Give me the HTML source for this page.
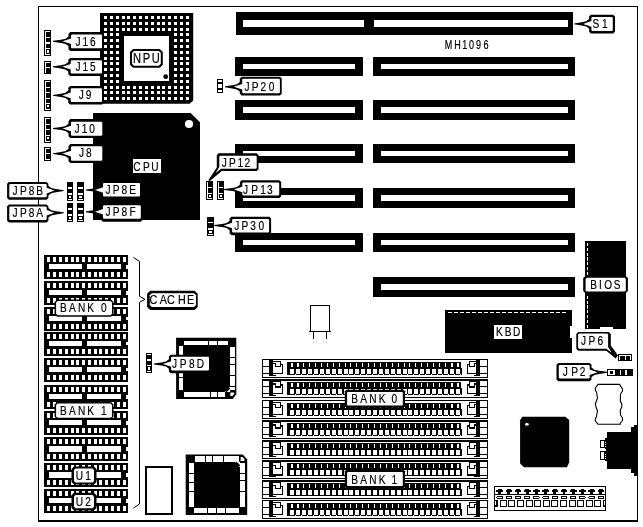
<!DOCTYPE html>
<html><head><meta charset="utf-8"><title>MH1096 motherboard layout</title>
<style>
html,body{margin:0;padding:0;background:#fff;}
body{width:643px;height:527px;overflow:hidden;}
svg{display:block;will-change:transform;}
rect{shape-rendering:crispEdges;}
text{font-family:"Liberation Sans",Arial,Helvetica,sans-serif;}
</style></head><body>
<svg width="643" height="527" viewBox="0 0 643 527">
<rect x="0" y="0" width="643" height="527" fill="#fff"/>
<rect x="38" y="6" width="600.2" height="1" fill="#000" />
<rect x="38" y="6" width="1" height="515.5" fill="#000" />
<rect x="636.9" y="6" width="1.3" height="515.7" fill="#000" />
<rect x="38" y="519.9" width="600.2" height="1.9" fill="#000" />
<path d="M100,13 H193.2 V100.6 L189.8,103.8 H100 Z" fill="#000"/>
<rect x="124" y="36" width="45" height="45" fill="#fff" />
<rect x="104" y="16" width="3" height="3" fill="#fff" />
<rect x="104" y="22" width="3" height="3" fill="#fff" />
<rect x="104" y="28" width="3" height="3" fill="#fff" />
<rect x="104" y="33" width="3" height="3" fill="#fff" />
<rect x="104" y="39" width="3" height="3" fill="#fff" />
<rect x="104" y="45" width="3" height="3" fill="#fff" />
<rect x="104" y="51" width="3" height="3" fill="#fff" />
<rect x="104" y="57" width="3" height="3" fill="#fff" />
<rect x="104" y="62" width="3" height="3" fill="#fff" />
<rect x="104" y="68" width="3" height="3" fill="#fff" />
<rect x="104" y="74" width="3" height="3" fill="#fff" />
<rect x="104" y="80" width="3" height="3" fill="#fff" />
<rect x="104" y="86" width="3" height="3" fill="#fff" />
<rect x="104" y="91" width="3" height="3" fill="#fff" />
<rect x="104" y="97" width="3" height="3" fill="#fff" />
<rect x="110" y="16" width="3" height="3" fill="#fff" />
<rect x="110" y="22" width="3" height="3" fill="#fff" />
<rect x="110" y="28" width="3" height="3" fill="#fff" />
<rect x="110" y="33" width="3" height="3" fill="#fff" />
<rect x="110" y="39" width="3" height="3" fill="#fff" />
<rect x="110" y="45" width="3" height="3" fill="#fff" />
<rect x="110" y="51" width="3" height="3" fill="#fff" />
<rect x="110" y="57" width="3" height="3" fill="#fff" />
<rect x="110" y="62" width="3" height="3" fill="#fff" />
<rect x="110" y="68" width="3" height="3" fill="#fff" />
<rect x="110" y="74" width="3" height="3" fill="#fff" />
<rect x="110" y="80" width="3" height="3" fill="#fff" />
<rect x="110" y="86" width="3" height="3" fill="#fff" />
<rect x="110" y="91" width="3" height="3" fill="#fff" />
<rect x="110" y="97" width="3" height="3" fill="#fff" />
<rect x="116" y="16" width="3" height="3" fill="#fff" />
<rect x="116" y="22" width="3" height="3" fill="#fff" />
<rect x="116" y="28" width="3" height="3" fill="#fff" />
<rect x="116" y="33" width="3" height="3" fill="#fff" />
<rect x="116" y="39" width="3" height="3" fill="#fff" />
<rect x="116" y="45" width="3" height="3" fill="#fff" />
<rect x="116" y="51" width="3" height="3" fill="#fff" />
<rect x="116" y="57" width="3" height="3" fill="#fff" />
<rect x="116" y="62" width="3" height="3" fill="#fff" />
<rect x="116" y="68" width="3" height="3" fill="#fff" />
<rect x="116" y="74" width="3" height="3" fill="#fff" />
<rect x="116" y="80" width="3" height="3" fill="#fff" />
<rect x="116" y="86" width="3" height="3" fill="#fff" />
<rect x="116" y="91" width="3" height="3" fill="#fff" />
<rect x="116" y="97" width="3" height="3" fill="#fff" />
<rect x="122" y="16" width="3" height="3" fill="#fff" />
<rect x="122" y="22" width="3" height="3" fill="#fff" />
<rect x="122" y="28" width="3" height="3" fill="#fff" />
<rect x="122" y="86" width="3" height="3" fill="#fff" />
<rect x="122" y="91" width="3" height="3" fill="#fff" />
<rect x="122" y="97" width="3" height="3" fill="#fff" />
<rect x="127" y="16" width="3" height="3" fill="#fff" />
<rect x="127" y="22" width="3" height="3" fill="#fff" />
<rect x="127" y="28" width="3" height="3" fill="#fff" />
<rect x="127" y="86" width="3" height="3" fill="#fff" />
<rect x="127" y="91" width="3" height="3" fill="#fff" />
<rect x="127" y="97" width="3" height="3" fill="#fff" />
<rect x="133" y="16" width="3" height="3" fill="#fff" />
<rect x="133" y="22" width="3" height="3" fill="#fff" />
<rect x="133" y="28" width="3" height="3" fill="#fff" />
<rect x="133" y="86" width="3" height="3" fill="#fff" />
<rect x="133" y="91" width="3" height="3" fill="#fff" />
<rect x="133" y="97" width="3" height="3" fill="#fff" />
<rect x="139" y="16" width="3" height="3" fill="#fff" />
<rect x="139" y="22" width="3" height="3" fill="#fff" />
<rect x="139" y="28" width="3" height="3" fill="#fff" />
<rect x="139" y="86" width="3" height="3" fill="#fff" />
<rect x="139" y="91" width="3" height="3" fill="#fff" />
<rect x="139" y="97" width="3" height="3" fill="#fff" />
<rect x="145" y="16" width="3" height="3" fill="#fff" />
<rect x="145" y="22" width="3" height="3" fill="#fff" />
<rect x="145" y="28" width="3" height="3" fill="#fff" />
<rect x="145" y="86" width="3" height="3" fill="#fff" />
<rect x="145" y="91" width="3" height="3" fill="#fff" />
<rect x="145" y="97" width="3" height="3" fill="#fff" />
<rect x="151" y="16" width="3" height="3" fill="#fff" />
<rect x="151" y="22" width="3" height="3" fill="#fff" />
<rect x="151" y="28" width="3" height="3" fill="#fff" />
<rect x="151" y="86" width="3" height="3" fill="#fff" />
<rect x="151" y="91" width="3" height="3" fill="#fff" />
<rect x="151" y="97" width="3" height="3" fill="#fff" />
<rect x="157" y="16" width="3" height="3" fill="#fff" />
<rect x="157" y="22" width="3" height="3" fill="#fff" />
<rect x="157" y="28" width="3" height="3" fill="#fff" />
<rect x="157" y="86" width="3" height="3" fill="#fff" />
<rect x="157" y="91" width="3" height="3" fill="#fff" />
<rect x="157" y="97" width="3" height="3" fill="#fff" />
<rect x="162" y="16" width="3" height="3" fill="#fff" />
<rect x="162" y="22" width="3" height="3" fill="#fff" />
<rect x="162" y="28" width="3" height="3" fill="#fff" />
<rect x="162" y="86" width="3" height="3" fill="#fff" />
<rect x="162" y="91" width="3" height="3" fill="#fff" />
<rect x="162" y="97" width="3" height="3" fill="#fff" />
<rect x="168" y="16" width="3" height="3" fill="#fff" />
<rect x="168" y="22" width="3" height="3" fill="#fff" />
<rect x="168" y="28" width="3" height="3" fill="#fff" />
<rect x="168" y="86" width="3" height="3" fill="#fff" />
<rect x="168" y="91" width="3" height="3" fill="#fff" />
<rect x="168" y="97" width="3" height="3" fill="#fff" />
<rect x="174" y="16" width="3" height="3" fill="#fff" />
<rect x="174" y="22" width="3" height="3" fill="#fff" />
<rect x="174" y="28" width="3" height="3" fill="#fff" />
<rect x="174" y="33" width="3" height="3" fill="#fff" />
<rect x="174" y="39" width="3" height="3" fill="#fff" />
<rect x="174" y="45" width="3" height="3" fill="#fff" />
<rect x="174" y="51" width="3" height="3" fill="#fff" />
<rect x="174" y="57" width="3" height="3" fill="#fff" />
<rect x="174" y="62" width="3" height="3" fill="#fff" />
<rect x="174" y="68" width="3" height="3" fill="#fff" />
<rect x="174" y="74" width="3" height="3" fill="#fff" />
<rect x="174" y="80" width="3" height="3" fill="#fff" />
<rect x="174" y="86" width="3" height="3" fill="#fff" />
<rect x="174" y="91" width="3" height="3" fill="#fff" />
<rect x="174" y="97" width="3" height="3" fill="#fff" />
<rect x="180" y="16" width="3" height="3" fill="#fff" />
<rect x="180" y="22" width="3" height="3" fill="#fff" />
<rect x="180" y="28" width="3" height="3" fill="#fff" />
<rect x="180" y="33" width="3" height="3" fill="#fff" />
<rect x="180" y="39" width="3" height="3" fill="#fff" />
<rect x="180" y="45" width="3" height="3" fill="#fff" />
<rect x="180" y="51" width="3" height="3" fill="#fff" />
<rect x="180" y="57" width="3" height="3" fill="#fff" />
<rect x="180" y="62" width="3" height="3" fill="#fff" />
<rect x="180" y="68" width="3" height="3" fill="#fff" />
<rect x="180" y="74" width="3" height="3" fill="#fff" />
<rect x="180" y="80" width="3" height="3" fill="#fff" />
<rect x="180" y="86" width="3" height="3" fill="#fff" />
<rect x="180" y="91" width="3" height="3" fill="#fff" />
<rect x="180" y="97" width="3" height="3" fill="#fff" />
<rect x="186" y="16" width="3" height="3" fill="#fff" />
<rect x="186" y="22" width="3" height="3" fill="#fff" />
<rect x="186" y="28" width="3" height="3" fill="#fff" />
<rect x="186" y="33" width="3" height="3" fill="#fff" />
<rect x="186" y="39" width="3" height="3" fill="#fff" />
<rect x="186" y="45" width="3" height="3" fill="#fff" />
<rect x="186" y="51" width="3" height="3" fill="#fff" />
<rect x="186" y="57" width="3" height="3" fill="#fff" />
<rect x="186" y="62" width="3" height="3" fill="#fff" />
<rect x="186" y="68" width="3" height="3" fill="#fff" />
<rect x="186" y="74" width="3" height="3" fill="#fff" />
<rect x="186" y="80" width="3" height="3" fill="#fff" />
<rect x="186" y="86" width="3" height="3" fill="#fff" />
<rect x="186" y="91" width="3" height="3" fill="#fff" />
<rect x="186" y="97" width="3" height="3" fill="#fff" />
<circle cx="165.7" cy="76.7" r="2.4" fill="#000"/>
<polygon points="133,48.9 159.8,48.9 162.8,51.9 162.8,64.8 159.8,67.8 133,67.8 130,64.8 130,51.9" fill="#000"/>
<polygon points="134,50.9 158.8,50.9 160.8,52.9 160.8,63.8 158.8,65.8 134,65.8 132,63.8 132,52.9" fill="#fff"/>
<text transform="scale(0.8,1)" x="171.25 183.00 194.75" y="62.8" font-size="14" text-anchor="middle" fill="#000" stroke="#000" stroke-width="0.2" font-weight="normal" font-family="Liberation Sans, Arial, Helvetica, sans-serif">NPU</text>
<path d="M93,113 H190.6 L200,122.3 V220 H93 Z" fill="#000"/>
<circle cx="189" cy="124" r="4.1" fill="#fff"/>
<rect x="236" y="12" width="336.6" height="22.7" fill="#000" />
<rect x="243" y="20" width="121.4" height="7" fill="#fff" />
<rect x="373.7" y="20" width="194" height="7" fill="#fff" />
<rect x="235" y="56.8" width="128" height="19" fill="#000" />
<rect x="242.6" y="64" width="112.6" height="5.4" fill="#fff" />
<rect x="373" y="56.8" width="202" height="19" fill="#000" />
<rect x="381" y="64" width="186.6" height="5.4" fill="#fff" />
<rect x="235" y="99.8" width="128" height="20" fill="#000" />
<rect x="242.6" y="106.9" width="112.6" height="6.1" fill="#fff" />
<rect x="373" y="99.8" width="202" height="20" fill="#000" />
<rect x="381" y="106.9" width="186.6" height="6.1" fill="#fff" />
<rect x="235" y="144.1" width="128" height="18.6" fill="#000" />
<rect x="242.6" y="151.4" width="112.6" height="4.8" fill="#fff" />
<rect x="373" y="144.1" width="202" height="18.6" fill="#000" />
<rect x="381" y="151.4" width="186.6" height="4.8" fill="#fff" />
<rect x="235" y="187.8" width="128" height="20" fill="#000" />
<rect x="242.6" y="194.9" width="112.6" height="6.1" fill="#fff" />
<rect x="373" y="187.8" width="202" height="20" fill="#000" />
<rect x="381" y="194.9" width="186.6" height="6.1" fill="#fff" />
<rect x="235" y="232.9" width="128" height="19" fill="#000" />
<rect x="242.6" y="239.9" width="112.6" height="5.1" fill="#fff" />
<rect x="373" y="232.9" width="202" height="19" fill="#000" />
<rect x="381" y="239.9" width="186.6" height="5.1" fill="#fff" />
<rect x="373" y="276.9" width="202" height="19.9" fill="#000" />
<rect x="381" y="284.2" width="186.6" height="5.8" fill="#fff" />
<text transform="scale(0.74,1)" x="605.95 618.24 628.11 637.03 646.76 656.62" y="49" font-size="12.2" text-anchor="middle" fill="#000" stroke="#000" stroke-width="0.2" font-weight="normal" font-family="Liberation Sans, Arial, Helvetica, sans-serif">MH1096</text>
<rect x="44" y="30" width="7" height="26" fill="#000" />
<rect x="45" y="31" width="1.1" height="24" fill="#fff" />
<rect x="45" y="31" width="5" height="1.1" fill="#fff" />
<rect x="45" y="36.725" width="5" height="1.1" fill="#fff" />
<rect x="45" y="42.45" width="5" height="1.1" fill="#fff" />
<rect x="45" y="48.175" width="5" height="1.1" fill="#fff" />
<rect x="45" y="53.9" width="5" height="1.1" fill="#fff" />
<rect x="49.5" y="48.175" width="0.6" height="6.825" fill="#fff" />
<rect x="47" y="50.4875" width="2" height="2.2" fill="#fff" />
<rect x="44" y="61" width="7" height="12.7" fill="#000" />
<rect x="45" y="62" width="1.1" height="10.7" fill="#fff" />
<rect x="45" y="62" width="5" height="1.1" fill="#fff" />
<rect x="45" y="66.8" width="5" height="1.1" fill="#fff" />
<rect x="44" y="80" width="7" height="30.6" fill="#000" />
<rect x="45" y="81" width="1.1" height="28.6" fill="#fff" />
<rect x="45" y="81" width="5" height="1.1" fill="#fff" />
<rect x="45" y="86.5" width="5" height="1.1" fill="#fff" />
<rect x="45" y="92" width="5" height="1.1" fill="#fff" />
<rect x="45" y="97.5" width="5" height="1.1" fill="#fff" />
<rect x="45" y="103" width="5" height="1.1" fill="#fff" />
<rect x="45" y="108.5" width="5" height="1.1" fill="#fff" />
<rect x="49.5" y="103" width="0.6" height="6.6" fill="#fff" />
<rect x="47" y="105.2" width="2" height="2.2" fill="#fff" />
<rect x="44" y="117" width="7" height="25.7" fill="#000" />
<rect x="45" y="118" width="1.1" height="23.7" fill="#fff" />
<rect x="45" y="118" width="5" height="1.1" fill="#fff" />
<rect x="45" y="123.65" width="5" height="1.1" fill="#fff" />
<rect x="45" y="129.3" width="5" height="1.1" fill="#fff" />
<rect x="45" y="134.95" width="5" height="1.1" fill="#fff" />
<rect x="45" y="140.6" width="5" height="1.1" fill="#fff" />
<rect x="49.5" y="134.95" width="0.6" height="6.75" fill="#fff" />
<rect x="47" y="137.225" width="2" height="2.2" fill="#fff" />
<rect x="44" y="147" width="7" height="13.7" fill="#000" />
<rect x="45" y="148" width="1.1" height="11.7" fill="#fff" />
<rect x="45" y="148" width="5" height="1.1" fill="#fff" />
<rect x="45" y="153.3" width="5" height="1.1" fill="#fff" />
<rect x="45" y="158.6" width="5" height="1.1" fill="#fff" />
<polygon points="70.3,32 102.2,32 104,33.8 104,49.2 102.2,51 70.3,51 68.5,49.2 68.5,46.1 65.6,43.9 61,42.9 53,41.75 53,40.85 61,39.7 65.6,38.7 68.5,36.5 68.5,33.8" fill="#000"/>
<polygon points="71.8,34.6 101.2,34.6 102,35.4 102,47.5 101.2,48.3 71.8,48.3 71,47.5 71,44.1 62.5,41.3 71,38.5 71,35.4" fill="#fff"/>
<text transform="scale(0.75,1)" x="104.00 113.87 123.73" y="46" font-size="13.5" text-anchor="middle" fill="#000" stroke="#000" stroke-width="0.2" font-weight="normal" font-family="Liberation Sans, Arial, Helvetica, sans-serif">J16</text>
<polygon points="70.1,58 102.2,58 104,59.8 104,74.2 102.2,76 70.1,76 68.3,74.2 68.3,71.6 65.4,69.4 60.8,68.4 53,67.25 53,66.35 60.8,65.2 65.4,64.2 68.3,62 68.3,59.8" fill="#000"/>
<polygon points="71.5,60.3 101.2,60.3 102,61.1 102,72.8 101.2,73.6 71.5,73.6 70.7,72.8 70.7,69.6 62.3,66.8 70.7,64 70.7,61.1" fill="#fff"/>
<text transform="scale(0.75,1)" x="104.00 113.87 123.73" y="71" font-size="13.5" text-anchor="middle" fill="#000" stroke="#000" stroke-width="0.2" font-weight="normal" font-family="Liberation Sans, Arial, Helvetica, sans-serif">J15</text>
<polygon points="70.1,86 102.2,86 104,87.8 104,102.8 102.2,104.6 70.1,104.6 68.3,102.8 68.3,100.2 65.4,98 60.8,97 53,95.85 53,94.95 60.8,93.8 65.4,92.8 68.3,90.6 68.3,87.8" fill="#000"/>
<polygon points="71.5,88.3 101.2,88.3 102,89.1 102,101.2 101.2,102 71.5,102 70.7,101.2 70.7,98.2 62.3,95.4 70.7,92.6 70.7,89.1" fill="#fff"/>
<text transform="scale(0.75,1)" x="108.40 118.27" y="99" font-size="13.5" text-anchor="middle" fill="#000" stroke="#000" stroke-width="0.2" font-weight="normal" font-family="Liberation Sans, Arial, Helvetica, sans-serif">J9</text>
<polygon points="70.3,119.1 102.7,119.1 104.5,120.9 104.5,136.2 102.7,138 70.3,138 68.5,136.2 68.5,133.3 65.6,131.1 61,130.1 53,128.95 53,128.05 61,126.9 65.6,125.9 68.5,123.7 68.5,120.9" fill="#000"/>
<polygon points="71.8,121.8 101.5,121.8 102.3,122.6 102.3,134.9 101.5,135.7 71.8,135.7 71,134.9 71,131.3 62.5,128.5 71,125.7 71,122.6" fill="#fff"/>
<text transform="scale(0.75,1)" x="102.67 112.80 122.93" y="132.7" font-size="13.5" text-anchor="middle" fill="#000" stroke="#000" stroke-width="0.2" font-weight="normal" font-family="Liberation Sans, Arial, Helvetica, sans-serif">J10</text>
<polygon points="70.3,144.1 102.7,144.1 104.5,145.9 104.5,161.2 102.7,163 70.3,163 68.5,161.2 68.5,158.4 65.6,156.2 61,155.2 53,154.05 53,153.15 61,152 65.6,151 68.5,148.8 68.5,145.9" fill="#000"/>
<polygon points="71.8,146.3 101.5,146.3 102.3,147.1 102.3,159.9 101.5,160.7 71.8,160.7 71,159.9 71,156.4 62.5,153.6 71,150.8 71,147.1" fill="#fff"/>
<text transform="scale(0.75,1)" x="108.67 118.53" y="157" font-size="13.5" text-anchor="middle" fill="#000" stroke="#000" stroke-width="0.2" font-weight="normal" font-family="Liberation Sans, Arial, Helvetica, sans-serif">J8</text>
<rect x="67" y="182" width="6" height="19" fill="#000" />
<rect x="68.1" y="187" width="3.9" height="2" fill="#fff" />
<rect x="68.1" y="193.1" width="3.9" height="1.9" fill="#fff" />
<rect x="68.1" y="199.1" width="3.9" height="1" fill="#fff" />
<rect x="69" y="196.2" width="2" height="2" fill="#fff" />
<rect x="77" y="182" width="7" height="19" fill="#000" />
<rect x="78.1" y="187" width="4.9" height="2" fill="#fff" />
<rect x="78.1" y="193.1" width="4.9" height="1.9" fill="#fff" />
<rect x="78.1" y="199.1" width="4.9" height="1" fill="#fff" />
<rect x="79" y="196.2" width="3" height="2" fill="#fff" />
<rect x="67" y="203" width="6" height="19" fill="#000" />
<rect x="68.1" y="208" width="3.9" height="2" fill="#fff" />
<rect x="68.1" y="214.1" width="3.9" height="1.9" fill="#fff" />
<rect x="68.1" y="220.1" width="3.9" height="1" fill="#fff" />
<rect x="69" y="217.2" width="2" height="2" fill="#fff" />
<rect x="77" y="203" width="7" height="19" fill="#000" />
<rect x="78.1" y="208" width="4.9" height="2" fill="#fff" />
<rect x="78.1" y="214.1" width="4.9" height="1.9" fill="#fff" />
<rect x="78.1" y="220.1" width="4.9" height="1" fill="#fff" />
<rect x="79" y="217.2" width="3" height="2" fill="#fff" />
<polygon points="8.9,182 46.6,182 48.4,183.8 48.4,185.8 51.3,188 55.9,189 63.7,190.15 63.7,191.05 55.9,192.2 51.3,193.2 48.4,195.4 48.4,197.9 46.6,199.7 8.9,199.7 7.1,197.9 7.1,183.8" fill="#000"/>
<polygon points="10.1,183.9 45.9,183.9 46.7,184.7 46.7,187.8 54.4,190.6 46.7,193.4 46.7,196.4 45.9,197.2 10.1,197.2 9.3,196.4 9.3,184.7" fill="#fff"/>
<text transform="scale(0.75,1)" x="20.13 31.07 42.00 52.93" y="194.8" font-size="13.5" text-anchor="middle" fill="#000" stroke="#000" stroke-width="0.2" font-weight="normal" font-family="Liberation Sans, Arial, Helvetica, sans-serif">JP8B</text>
<polygon points="8.9,204.5 46.6,204.5 48.4,206.3 48.4,208 51.3,210.2 55.9,211.2 63.7,212.35 63.7,213.25 55.9,214.4 51.3,215.4 48.4,217.6 48.4,220.8 46.6,222.6 8.9,222.6 7.1,220.8 7.1,206.3" fill="#000"/>
<polygon points="10.1,206.4 45.9,206.4 46.7,207.2 46.7,210 54.4,212.8 46.7,215.6 46.7,219.3 45.9,220.1 10.1,220.1 9.3,219.3 9.3,207.2" fill="#fff"/>
<text transform="scale(0.75,1)" x="20.13 31.07 42.00 52.93" y="217.2" font-size="13.5" text-anchor="middle" fill="#000" stroke="#000" stroke-width="0.2" font-weight="normal" font-family="Liberation Sans, Arial, Helvetica, sans-serif">JP8A</text>
<polygon points="102.8,181 140.2,181 142,182.8 142,196.9 140.2,198.7 102.8,198.7 101,196.9 101,194.8 98.1,192.6 93.5,191.6 86,190.45 86,189.55 93.5,188.4 98.1,187.4 101,185.2 101,182.8" fill="#000"/>
<polygon points="103.8,183 139.2,183 140,183.8 140,195.7 139.2,196.5 103.8,196.5 103,195.7 103,192.8 95,190 103,187.2 103,183.8" fill="#fff"/>
<text transform="scale(0.75,1)" x="144.00 154.93 165.87 176.80" y="194" font-size="13.5" text-anchor="middle" fill="#000" stroke="#000" stroke-width="0.2" font-weight="normal" font-family="Liberation Sans, Arial, Helvetica, sans-serif">JP8E</text>
<polygon points="102.8,203.2 140.8,203.2 142.6,205 142.6,219.9 140.8,221.7 102.8,221.7 101,219.9 101,216.6 98.1,214.4 93.5,213.4 86,212.25 86,211.35 93.5,210.2 98.1,209.2 101,207 101,205" fill="#000"/>
<polygon points="103.8,205.2 140,205.2 140.8,206 140.8,217.9 140,218.7 103.8,218.7 103,217.9 103,214.6 95,211.8 103,209 103,206" fill="#fff"/>
<text transform="scale(0.75,1)" x="144.00 154.93 165.87 176.80" y="215.8" font-size="13.5" text-anchor="middle" fill="#000" stroke="#000" stroke-width="0.2" font-weight="normal" font-family="Liberation Sans, Arial, Helvetica, sans-serif">JP8F</text>
<rect x="133" y="159" width="28" height="14" fill="#fff" />
<text transform="scale(0.75,1)" x="182.40 195.07 206.67" y="170.9" font-size="13.5" text-anchor="middle" fill="#000" stroke="#000" stroke-width="0.2" font-weight="normal" font-family="Liberation Sans, Arial, Helvetica, sans-serif">CPU</text>
<rect x="217" y="79" width="6" height="14" fill="#000" />
<rect x="218" y="80" width="4" height="1.8" fill="#fff" />
<rect x="218" y="84.4" width="4" height="3.2" fill="#fff" />
<rect x="218" y="90.2" width="4" height="1.8" fill="#fff" />
<polygon points="241.6,76.7 279.9,76.7 281.7,78.5 281.7,93.8 279.9,95.6 241.6,95.6 239.8,93.8 239.8,91.6 236.9,89.4 232.3,88.4 225,87.25 225,86.35 232.3,85.2 236.9,84.2 239.8,82 239.8,78.5" fill="#000"/>
<polygon points="243,78.8 279.1,78.8 279.9,79.6 279.9,92.4 279.1,93.2 243,93.2 242.2,92.4 242.2,89.6 233.8,86.8 242.2,84 242.2,79.6" fill="#fff"/>
<text transform="scale(0.75,1)" x="329.33 340.27 351.20 362.13" y="91" font-size="13.5" text-anchor="middle" fill="#000" stroke="#000" stroke-width="0.2" font-weight="normal" font-family="Liberation Sans, Arial, Helvetica, sans-serif">JP20</text>
<polygon points="218.6,153.3 256.7,153.3 258.5,155.1 258.5,169.3 256.7,171.1 221.8,171.1 209.9,181 208.3,180.2 216.8,167.6 216.8,155.1" fill="#000"/>
<polygon points="220.1,155.7 255.9,155.7 256.7,156.5 256.7,167.9 255.9,168.7 221,168.7 215.6,173 219.3,167 219.3,156.5" fill="#fff"/>
<text transform="scale(0.75,1)" x="299.20 310.00 320.53 329.60" y="167" font-size="13.5" text-anchor="middle" fill="#000" stroke="#000" stroke-width="0.2" font-weight="normal" font-family="Liberation Sans, Arial, Helvetica, sans-serif">JP12</text>
<rect x="206" y="181" width="7" height="18.9" fill="#000" />
<rect x="207" y="182" width="1.1" height="16.9" fill="#fff" />
<rect x="207" y="187.267" width="5" height="1.1" fill="#fff" />
<rect x="207" y="192.533" width="5" height="1.1" fill="#fff" />
<rect x="207" y="197.8" width="5" height="1.1" fill="#fff" />
<rect x="211.5" y="192.533" width="0.6" height="6.36667" fill="#fff" />
<rect x="209" y="194.617" width="2" height="2.2" fill="#fff" />
<rect x="217" y="181" width="7" height="18.9" fill="#000" />
<rect x="218" y="182" width="1.1" height="16.9" fill="#fff" />
<rect x="218" y="187.267" width="5" height="1.1" fill="#fff" />
<rect x="218" y="192.533" width="5" height="1.1" fill="#fff" />
<rect x="218" y="197.8" width="5" height="1.1" fill="#fff" />
<rect x="222.5" y="192.533" width="0.6" height="6.36667" fill="#fff" />
<rect x="220" y="194.617" width="2" height="2.2" fill="#fff" />
<polygon points="241.7,180.2 279.4,180.2 281.2,182 281.2,196.3 279.4,198.1 241.7,198.1 239.9,196.3 239.9,194.3 237,192.1 232.4,191.1 224,189.95 224,189.05 232.4,187.9 237,186.9 239.9,184.7 239.9,182" fill="#000"/>
<polygon points="243.1,182.6 278.4,182.6 279.2,183.4 279.2,194.8 278.4,195.6 243.1,195.6 242.3,194.8 242.3,192.3 233.9,189.5 242.3,186.7 242.3,183.4" fill="#fff"/>
<text transform="scale(0.75,1)" x="327.47 339.60 350.67 359.60" y="194" font-size="13.5" text-anchor="middle" fill="#000" stroke="#000" stroke-width="0.2" font-weight="normal" font-family="Liberation Sans, Arial, Helvetica, sans-serif">JP13</text>
<rect x="207.2" y="216.8" width="6.6" height="18.7" fill="#000" />
<rect x="208.3" y="222.3" width="4.5" height="1.1" fill="#fff" />
<rect x="208.3" y="228" width="4.5" height="1.5" fill="#fff" />
<rect x="208.3" y="233.8" width="4.5" height="1" fill="#fff" />
<rect x="209.2" y="230.6" width="2.6" height="2" fill="#fff" />
<polygon points="231.4,216.8 269.3,216.8 271.1,218.6 271.1,233.5 269.3,235.3 231.4,235.3 229.6,233.5 229.6,230.3 226.7,228.1 222.1,227.1 214.3,225.95 214.3,225.05 222.1,223.9 226.7,222.9 229.6,220.7 229.6,218.6" fill="#000"/>
<polygon points="232.9,219 268.3,219 269.1,219.8 269.1,231.8 268.3,232.6 232.9,232.6 232.1,231.8 232.1,228.3 223.6,225.5 232.1,222.7 232.1,219.8" fill="#fff"/>
<text transform="scale(0.75,1)" x="315.73 326.60 337.47 348.33" y="230" font-size="13.5" text-anchor="middle" fill="#000" stroke="#000" stroke-width="0.2" font-weight="normal" font-family="Liberation Sans, Arial, Helvetica, sans-serif">JP30</text>
<polygon points="590.9,14.8 613.2,14.8 615,16.6 615,31.7 613.2,33.5 590.9,33.5 589.1,31.7 589.1,28.7 586.2,26.5 581.6,25.5 574.2,24.35 574.2,23.45 581.6,22.3 586.2,21.3 589.1,19.1 589.1,16.6" fill="#000"/>
<polygon points="592.2,17 612,17 612.8,17.8 612.8,30.2 612,31 592.2,31 591.4,30.2 591.4,26.7 583.1,23.9 591.4,21.1 591.4,17.8" fill="#fff"/>
<text transform="scale(0.75,1)" x="794.40 806.40" y="28" font-size="13.5" text-anchor="middle" fill="#000" stroke="#000" stroke-width="0.2" font-weight="normal" font-family="Liberation Sans, Arial, Helvetica, sans-serif">S1</text>
<rect x="585" y="241" width="41" height="87.5" fill="#000" />
<rect x="600" y="326.5" width="13" height="2.5" fill="#fff" />
<rect x="587" y="243" width="1" height="3.2" fill="#fff" />
<rect x="587" y="247.8" width="1" height="3.2" fill="#fff" />
<rect x="587" y="252.6" width="1" height="3.2" fill="#fff" />
<rect x="587" y="257.4" width="1" height="3.2" fill="#fff" />
<rect x="587" y="262.2" width="1" height="3.2" fill="#fff" />
<rect x="587" y="267" width="1" height="3.2" fill="#fff" />
<rect x="587" y="271.8" width="1" height="3.2" fill="#fff" />
<rect x="587" y="295.8" width="1" height="3.2" fill="#fff" />
<rect x="587" y="300.6" width="1" height="3.2" fill="#fff" />
<rect x="587" y="305.4" width="1" height="3.2" fill="#fff" />
<rect x="587" y="310.2" width="1" height="3.2" fill="#fff" />
<rect x="587" y="315" width="1" height="3.2" fill="#fff" />
<rect x="587" y="319.8" width="1" height="3.2" fill="#fff" />
<rect x="587" y="324.6" width="1" height="3.2" fill="#fff" />
<polygon points="585.4,275.9 625.7,275.9 627.9,278.1 627.9,291 625.7,293.2 585.4,293.2 583.2,291 583.2,278.1" fill="#000"/>
<polygon points="586.8,277.7 624.6,277.7 625.8,278.9 625.8,290.2 624.6,291.4 586.8,291.4 585.6,290.2 585.6,278.9" fill="#fff"/>
<text transform="scale(0.75,1)" x="791.33 800.67 810.80 822.80" y="288.9" font-size="13.4" text-anchor="middle" fill="#000" stroke="#000" stroke-width="0.2" font-weight="normal" font-family="Liberation Sans, Arial, Helvetica, sans-serif">BIOS</text>
<rect x="445" y="310" width="127.3" height="42.8" fill="#000" />
<rect x="570" y="326" width="2.5" height="11.5" fill="#fff" />
<rect x="448" y="312" width="3.6" height="1" fill="#fff" />
<rect x="454" y="312" width="3.6" height="1" fill="#fff" />
<rect x="460" y="312" width="3.6" height="1" fill="#fff" />
<rect x="466" y="312" width="3.6" height="1" fill="#fff" />
<rect x="472" y="312" width="3.6" height="1" fill="#fff" />
<rect x="478" y="312" width="3.6" height="1" fill="#fff" />
<rect x="484" y="312" width="3.6" height="1" fill="#fff" />
<rect x="490" y="312" width="3.6" height="1" fill="#fff" />
<rect x="496" y="312" width="3.6" height="1" fill="#fff" />
<rect x="502" y="312" width="3.6" height="1" fill="#fff" />
<rect x="508" y="312" width="3.6" height="1" fill="#fff" />
<rect x="514" y="312" width="3.6" height="1" fill="#fff" />
<rect x="520" y="312" width="3.6" height="1" fill="#fff" />
<rect x="526" y="312" width="3.6" height="1" fill="#fff" />
<rect x="532" y="312" width="3.6" height="1" fill="#fff" />
<rect x="538" y="312" width="3.6" height="1" fill="#fff" />
<rect x="544" y="312" width="3.6" height="1" fill="#fff" />
<rect x="550" y="312" width="3.6" height="1" fill="#fff" />
<rect x="556" y="312" width="3.6" height="1" fill="#fff" />
<rect x="562" y="312" width="3.6" height="1" fill="#fff" />
<rect x="494" y="325" width="28" height="14" fill="#fff" />
<text transform="scale(0.75,1)" x="666.00 677.47 688.93" y="335.6" font-size="13.5" text-anchor="middle" fill="#000" stroke="#000" stroke-width="0.2" font-weight="normal" font-family="Liberation Sans, Arial, Helvetica, sans-serif">KBD</text>
<polygon points="578.3,332.1 608.8,332.1 610.8,334.1 610.8,345.5 618,355.6 615.6,358.4 606.3,350.8 578.3,350.8 576.3,348.8 576.3,334.1" fill="#000"/>
<polygon points="579.1,333.6 607.1,333.6 608.1,334.6 608.1,347 611.8,352.8 606.3,348.8 579.1,348.8 578.1,347.8 578.1,334.6" fill="#fff"/>
<text transform="scale(0.75,1)" x="778.00 789.33 800.40" y="344.8" font-size="13.5" text-anchor="middle" fill="#000" stroke="#000" stroke-width="0.2" font-weight="normal" font-family="Liberation Sans, Arial, Helvetica, sans-serif">JP6</text>
<rect x="618.5" y="354.5" width="13.3" height="6" fill="#fff" stroke="#000" stroke-width="1" rx="0"/>
<rect x="620" y="356" width="4.6" height="4" fill="#000" />
<rect x="626" y="356" width="4" height="4" fill="#000" />
<polygon points="558.3,363 589.7,363 591.5,364.8 591.5,367.5 594.4,369.7 599,370.7 607,371.85 607,372.75 599,373.9 594.4,374.9 591.5,377.1 591.5,379.4 589.7,381.2 558.3,381.2 556.5,379.4 556.5,364.8" fill="#000"/>
<polygon points="559.6,365 588.9,365 589.7,365.8 589.7,369.5 597.5,372.3 589.7,375.1 589.7,377.8 588.9,378.6 559.6,378.6 558.8,377.8 558.8,365.8" fill="#fff"/>
<text transform="scale(0.75,1)" x="753.73 766.00 776.80" y="375.9" font-size="13.5" text-anchor="middle" fill="#000" stroke="#000" stroke-width="0.2" font-weight="normal" font-family="Liberation Sans, Arial, Helvetica, sans-serif">JP2</text>
<rect x="607.3" y="369" width="25.7" height="6.8" fill="#000" />
<rect x="608.3" y="370" width="6.3" height="4.8" fill="#fff" />
<rect x="610" y="371.4" width="3" height="2.1" fill="#000" />
<rect x="619.5" y="370" width="1.4" height="4.8" fill="#fff" />
<rect x="625.1" y="370" width="1.4" height="4.8" fill="#fff" />
<rect x="44" y="255" width="83.7" height="24.2" fill="#000" />
<rect x="47" y="257" width="3.4" height="5" fill="#fff" />
<rect x="47" y="271.9" width="3.4" height="5" fill="#fff" />
<rect x="53" y="257" width="3.4" height="5" fill="#fff" />
<rect x="53" y="271.9" width="3.4" height="5" fill="#fff" />
<rect x="59" y="257" width="3.4" height="5" fill="#fff" />
<rect x="59" y="271.9" width="3.4" height="5" fill="#fff" />
<rect x="64.5" y="257" width="3.4" height="5" fill="#fff" />
<rect x="64.5" y="271.9" width="3.4" height="5" fill="#fff" />
<rect x="70.5" y="257" width="3.4" height="5" fill="#fff" />
<rect x="70.5" y="271.9" width="3.4" height="5" fill="#fff" />
<rect x="76" y="257" width="3.4" height="5" fill="#fff" />
<rect x="76" y="271.9" width="3.4" height="5" fill="#fff" />
<rect x="82" y="257" width="3.4" height="5" fill="#fff" />
<rect x="82" y="271.9" width="3.4" height="5" fill="#fff" />
<rect x="87.5" y="257" width="3.4" height="5" fill="#fff" />
<rect x="87.5" y="271.9" width="3.4" height="5" fill="#fff" />
<rect x="93.5" y="257" width="3.4" height="5" fill="#fff" />
<rect x="93.5" y="271.9" width="3.4" height="5" fill="#fff" />
<rect x="99" y="257" width="3.4" height="5" fill="#fff" />
<rect x="99" y="271.9" width="3.4" height="5" fill="#fff" />
<rect x="105" y="257" width="3.4" height="5" fill="#fff" />
<rect x="105" y="271.9" width="3.4" height="5" fill="#fff" />
<rect x="111" y="257" width="3.4" height="5" fill="#fff" />
<rect x="111" y="271.9" width="3.4" height="5" fill="#fff" />
<rect x="116.5" y="257" width="3.4" height="5" fill="#fff" />
<rect x="116.5" y="271.9" width="3.4" height="5" fill="#fff" />
<rect x="122.5" y="257" width="3.8" height="5" fill="#fff" />
<rect x="122.5" y="271.9" width="3.8" height="5" fill="#fff" />
<rect x="48.9" y="264.2" width="33.3" height="5.2" fill="#fff" />
<rect x="86.9" y="264.2" width="33.9" height="5.2" fill="#fff" />
<rect x="125.7" y="265" width="2" height="3.6" fill="#fff" />
<rect x="44" y="281" width="83.7" height="24.2" fill="#000" />
<rect x="47" y="283" width="3.4" height="5" fill="#fff" />
<rect x="47" y="297.9" width="3.4" height="5" fill="#fff" />
<rect x="53" y="283" width="3.4" height="5" fill="#fff" />
<rect x="53" y="297.9" width="3.4" height="5" fill="#fff" />
<rect x="59" y="283" width="3.4" height="5" fill="#fff" />
<rect x="59" y="297.9" width="3.4" height="5" fill="#fff" />
<rect x="64.5" y="283" width="3.4" height="5" fill="#fff" />
<rect x="64.5" y="297.9" width="3.4" height="5" fill="#fff" />
<rect x="70.5" y="283" width="3.4" height="5" fill="#fff" />
<rect x="70.5" y="297.9" width="3.4" height="5" fill="#fff" />
<rect x="76" y="283" width="3.4" height="5" fill="#fff" />
<rect x="76" y="297.9" width="3.4" height="5" fill="#fff" />
<rect x="82" y="283" width="3.4" height="5" fill="#fff" />
<rect x="82" y="297.9" width="3.4" height="5" fill="#fff" />
<rect x="87.5" y="283" width="3.4" height="5" fill="#fff" />
<rect x="87.5" y="297.9" width="3.4" height="5" fill="#fff" />
<rect x="93.5" y="283" width="3.4" height="5" fill="#fff" />
<rect x="93.5" y="297.9" width="3.4" height="5" fill="#fff" />
<rect x="99" y="283" width="3.4" height="5" fill="#fff" />
<rect x="99" y="297.9" width="3.4" height="5" fill="#fff" />
<rect x="105" y="283" width="3.4" height="5" fill="#fff" />
<rect x="105" y="297.9" width="3.4" height="5" fill="#fff" />
<rect x="111" y="283" width="3.4" height="5" fill="#fff" />
<rect x="111" y="297.9" width="3.4" height="5" fill="#fff" />
<rect x="116.5" y="283" width="3.4" height="5" fill="#fff" />
<rect x="116.5" y="297.9" width="3.4" height="5" fill="#fff" />
<rect x="122.5" y="283" width="3.8" height="5" fill="#fff" />
<rect x="122.5" y="297.9" width="3.8" height="5" fill="#fff" />
<rect x="48.9" y="290.2" width="33.3" height="5.2" fill="#fff" />
<rect x="86.9" y="290.2" width="33.9" height="5.2" fill="#fff" />
<rect x="125.7" y="291" width="2" height="3.6" fill="#fff" />
<rect x="44" y="306.6" width="83.7" height="24.2" fill="#000" />
<rect x="47" y="308.6" width="3.4" height="5" fill="#fff" />
<rect x="47" y="323.5" width="3.4" height="5" fill="#fff" />
<rect x="53" y="308.6" width="3.4" height="5" fill="#fff" />
<rect x="53" y="323.5" width="3.4" height="5" fill="#fff" />
<rect x="59" y="308.6" width="3.4" height="5" fill="#fff" />
<rect x="59" y="323.5" width="3.4" height="5" fill="#fff" />
<rect x="64.5" y="308.6" width="3.4" height="5" fill="#fff" />
<rect x="64.5" y="323.5" width="3.4" height="5" fill="#fff" />
<rect x="70.5" y="308.6" width="3.4" height="5" fill="#fff" />
<rect x="70.5" y="323.5" width="3.4" height="5" fill="#fff" />
<rect x="76" y="308.6" width="3.4" height="5" fill="#fff" />
<rect x="76" y="323.5" width="3.4" height="5" fill="#fff" />
<rect x="82" y="308.6" width="3.4" height="5" fill="#fff" />
<rect x="82" y="323.5" width="3.4" height="5" fill="#fff" />
<rect x="87.5" y="308.6" width="3.4" height="5" fill="#fff" />
<rect x="87.5" y="323.5" width="3.4" height="5" fill="#fff" />
<rect x="93.5" y="308.6" width="3.4" height="5" fill="#fff" />
<rect x="93.5" y="323.5" width="3.4" height="5" fill="#fff" />
<rect x="99" y="308.6" width="3.4" height="5" fill="#fff" />
<rect x="99" y="323.5" width="3.4" height="5" fill="#fff" />
<rect x="105" y="308.6" width="3.4" height="5" fill="#fff" />
<rect x="105" y="323.5" width="3.4" height="5" fill="#fff" />
<rect x="111" y="308.6" width="3.4" height="5" fill="#fff" />
<rect x="111" y="323.5" width="3.4" height="5" fill="#fff" />
<rect x="116.5" y="308.6" width="3.4" height="5" fill="#fff" />
<rect x="116.5" y="323.5" width="3.4" height="5" fill="#fff" />
<rect x="122.5" y="308.6" width="3.8" height="5" fill="#fff" />
<rect x="122.5" y="323.5" width="3.8" height="5" fill="#fff" />
<rect x="48.9" y="315.8" width="33.3" height="5.2" fill="#fff" />
<rect x="86.9" y="315.8" width="33.9" height="5.2" fill="#fff" />
<rect x="125.7" y="316.6" width="2" height="3.6" fill="#fff" />
<rect x="44" y="331.8" width="83.7" height="24.2" fill="#000" />
<rect x="47" y="333.8" width="3.4" height="5" fill="#fff" />
<rect x="47" y="348.7" width="3.4" height="5" fill="#fff" />
<rect x="53" y="333.8" width="3.4" height="5" fill="#fff" />
<rect x="53" y="348.7" width="3.4" height="5" fill="#fff" />
<rect x="59" y="333.8" width="3.4" height="5" fill="#fff" />
<rect x="59" y="348.7" width="3.4" height="5" fill="#fff" />
<rect x="64.5" y="333.8" width="3.4" height="5" fill="#fff" />
<rect x="64.5" y="348.7" width="3.4" height="5" fill="#fff" />
<rect x="70.5" y="333.8" width="3.4" height="5" fill="#fff" />
<rect x="70.5" y="348.7" width="3.4" height="5" fill="#fff" />
<rect x="76" y="333.8" width="3.4" height="5" fill="#fff" />
<rect x="76" y="348.7" width="3.4" height="5" fill="#fff" />
<rect x="82" y="333.8" width="3.4" height="5" fill="#fff" />
<rect x="82" y="348.7" width="3.4" height="5" fill="#fff" />
<rect x="87.5" y="333.8" width="3.4" height="5" fill="#fff" />
<rect x="87.5" y="348.7" width="3.4" height="5" fill="#fff" />
<rect x="93.5" y="333.8" width="3.4" height="5" fill="#fff" />
<rect x="93.5" y="348.7" width="3.4" height="5" fill="#fff" />
<rect x="99" y="333.8" width="3.4" height="5" fill="#fff" />
<rect x="99" y="348.7" width="3.4" height="5" fill="#fff" />
<rect x="105" y="333.8" width="3.4" height="5" fill="#fff" />
<rect x="105" y="348.7" width="3.4" height="5" fill="#fff" />
<rect x="111" y="333.8" width="3.4" height="5" fill="#fff" />
<rect x="111" y="348.7" width="3.4" height="5" fill="#fff" />
<rect x="116.5" y="333.8" width="3.4" height="5" fill="#fff" />
<rect x="116.5" y="348.7" width="3.4" height="5" fill="#fff" />
<rect x="122.5" y="333.8" width="3.8" height="5" fill="#fff" />
<rect x="122.5" y="348.7" width="3.8" height="5" fill="#fff" />
<rect x="48.9" y="341" width="33.3" height="5.2" fill="#fff" />
<rect x="86.9" y="341" width="33.9" height="5.2" fill="#fff" />
<rect x="125.7" y="341.8" width="2" height="3.6" fill="#fff" />
<rect x="44" y="357.7" width="83.7" height="24.2" fill="#000" />
<rect x="47" y="359.7" width="3.4" height="5" fill="#fff" />
<rect x="47" y="374.6" width="3.4" height="5" fill="#fff" />
<rect x="53" y="359.7" width="3.4" height="5" fill="#fff" />
<rect x="53" y="374.6" width="3.4" height="5" fill="#fff" />
<rect x="59" y="359.7" width="3.4" height="5" fill="#fff" />
<rect x="59" y="374.6" width="3.4" height="5" fill="#fff" />
<rect x="64.5" y="359.7" width="3.4" height="5" fill="#fff" />
<rect x="64.5" y="374.6" width="3.4" height="5" fill="#fff" />
<rect x="70.5" y="359.7" width="3.4" height="5" fill="#fff" />
<rect x="70.5" y="374.6" width="3.4" height="5" fill="#fff" />
<rect x="76" y="359.7" width="3.4" height="5" fill="#fff" />
<rect x="76" y="374.6" width="3.4" height="5" fill="#fff" />
<rect x="82" y="359.7" width="3.4" height="5" fill="#fff" />
<rect x="82" y="374.6" width="3.4" height="5" fill="#fff" />
<rect x="87.5" y="359.7" width="3.4" height="5" fill="#fff" />
<rect x="87.5" y="374.6" width="3.4" height="5" fill="#fff" />
<rect x="93.5" y="359.7" width="3.4" height="5" fill="#fff" />
<rect x="93.5" y="374.6" width="3.4" height="5" fill="#fff" />
<rect x="99" y="359.7" width="3.4" height="5" fill="#fff" />
<rect x="99" y="374.6" width="3.4" height="5" fill="#fff" />
<rect x="105" y="359.7" width="3.4" height="5" fill="#fff" />
<rect x="105" y="374.6" width="3.4" height="5" fill="#fff" />
<rect x="111" y="359.7" width="3.4" height="5" fill="#fff" />
<rect x="111" y="374.6" width="3.4" height="5" fill="#fff" />
<rect x="116.5" y="359.7" width="3.4" height="5" fill="#fff" />
<rect x="116.5" y="374.6" width="3.4" height="5" fill="#fff" />
<rect x="122.5" y="359.7" width="3.8" height="5" fill="#fff" />
<rect x="122.5" y="374.6" width="3.8" height="5" fill="#fff" />
<rect x="48.9" y="366.9" width="33.3" height="5.2" fill="#fff" />
<rect x="86.9" y="366.9" width="33.9" height="5.2" fill="#fff" />
<rect x="125.7" y="367.7" width="2" height="3.6" fill="#fff" />
<rect x="44" y="384.9" width="83.7" height="24.2" fill="#000" />
<rect x="47" y="386.9" width="3.4" height="5" fill="#fff" />
<rect x="47" y="401.8" width="3.4" height="5" fill="#fff" />
<rect x="53" y="386.9" width="3.4" height="5" fill="#fff" />
<rect x="53" y="401.8" width="3.4" height="5" fill="#fff" />
<rect x="59" y="386.9" width="3.4" height="5" fill="#fff" />
<rect x="59" y="401.8" width="3.4" height="5" fill="#fff" />
<rect x="64.5" y="386.9" width="3.4" height="5" fill="#fff" />
<rect x="64.5" y="401.8" width="3.4" height="5" fill="#fff" />
<rect x="70.5" y="386.9" width="3.4" height="5" fill="#fff" />
<rect x="70.5" y="401.8" width="3.4" height="5" fill="#fff" />
<rect x="76" y="386.9" width="3.4" height="5" fill="#fff" />
<rect x="76" y="401.8" width="3.4" height="5" fill="#fff" />
<rect x="82" y="386.9" width="3.4" height="5" fill="#fff" />
<rect x="82" y="401.8" width="3.4" height="5" fill="#fff" />
<rect x="87.5" y="386.9" width="3.4" height="5" fill="#fff" />
<rect x="87.5" y="401.8" width="3.4" height="5" fill="#fff" />
<rect x="93.5" y="386.9" width="3.4" height="5" fill="#fff" />
<rect x="93.5" y="401.8" width="3.4" height="5" fill="#fff" />
<rect x="99" y="386.9" width="3.4" height="5" fill="#fff" />
<rect x="99" y="401.8" width="3.4" height="5" fill="#fff" />
<rect x="105" y="386.9" width="3.4" height="5" fill="#fff" />
<rect x="105" y="401.8" width="3.4" height="5" fill="#fff" />
<rect x="111" y="386.9" width="3.4" height="5" fill="#fff" />
<rect x="111" y="401.8" width="3.4" height="5" fill="#fff" />
<rect x="116.5" y="386.9" width="3.4" height="5" fill="#fff" />
<rect x="116.5" y="401.8" width="3.4" height="5" fill="#fff" />
<rect x="122.5" y="386.9" width="3.8" height="5" fill="#fff" />
<rect x="122.5" y="401.8" width="3.8" height="5" fill="#fff" />
<rect x="48.9" y="394.1" width="33.3" height="5.2" fill="#fff" />
<rect x="86.9" y="394.1" width="33.9" height="5.2" fill="#fff" />
<rect x="125.7" y="394.9" width="2" height="3.6" fill="#fff" />
<rect x="44" y="411" width="83.7" height="24.2" fill="#000" />
<rect x="47" y="413" width="3.4" height="5" fill="#fff" />
<rect x="47" y="427.9" width="3.4" height="5" fill="#fff" />
<rect x="53" y="413" width="3.4" height="5" fill="#fff" />
<rect x="53" y="427.9" width="3.4" height="5" fill="#fff" />
<rect x="59" y="413" width="3.4" height="5" fill="#fff" />
<rect x="59" y="427.9" width="3.4" height="5" fill="#fff" />
<rect x="64.5" y="413" width="3.4" height="5" fill="#fff" />
<rect x="64.5" y="427.9" width="3.4" height="5" fill="#fff" />
<rect x="70.5" y="413" width="3.4" height="5" fill="#fff" />
<rect x="70.5" y="427.9" width="3.4" height="5" fill="#fff" />
<rect x="76" y="413" width="3.4" height="5" fill="#fff" />
<rect x="76" y="427.9" width="3.4" height="5" fill="#fff" />
<rect x="82" y="413" width="3.4" height="5" fill="#fff" />
<rect x="82" y="427.9" width="3.4" height="5" fill="#fff" />
<rect x="87.5" y="413" width="3.4" height="5" fill="#fff" />
<rect x="87.5" y="427.9" width="3.4" height="5" fill="#fff" />
<rect x="93.5" y="413" width="3.4" height="5" fill="#fff" />
<rect x="93.5" y="427.9" width="3.4" height="5" fill="#fff" />
<rect x="99" y="413" width="3.4" height="5" fill="#fff" />
<rect x="99" y="427.9" width="3.4" height="5" fill="#fff" />
<rect x="105" y="413" width="3.4" height="5" fill="#fff" />
<rect x="105" y="427.9" width="3.4" height="5" fill="#fff" />
<rect x="111" y="413" width="3.4" height="5" fill="#fff" />
<rect x="111" y="427.9" width="3.4" height="5" fill="#fff" />
<rect x="116.5" y="413" width="3.4" height="5" fill="#fff" />
<rect x="116.5" y="427.9" width="3.4" height="5" fill="#fff" />
<rect x="122.5" y="413" width="3.8" height="5" fill="#fff" />
<rect x="122.5" y="427.9" width="3.8" height="5" fill="#fff" />
<rect x="48.9" y="420.2" width="33.3" height="5.2" fill="#fff" />
<rect x="86.9" y="420.2" width="33.9" height="5.2" fill="#fff" />
<rect x="125.7" y="421" width="2" height="3.6" fill="#fff" />
<rect x="44" y="437.2" width="83.7" height="24.2" fill="#000" />
<rect x="47" y="439.2" width="3.4" height="5" fill="#fff" />
<rect x="47" y="454.1" width="3.4" height="5" fill="#fff" />
<rect x="53" y="439.2" width="3.4" height="5" fill="#fff" />
<rect x="53" y="454.1" width="3.4" height="5" fill="#fff" />
<rect x="59" y="439.2" width="3.4" height="5" fill="#fff" />
<rect x="59" y="454.1" width="3.4" height="5" fill="#fff" />
<rect x="64.5" y="439.2" width="3.4" height="5" fill="#fff" />
<rect x="64.5" y="454.1" width="3.4" height="5" fill="#fff" />
<rect x="70.5" y="439.2" width="3.4" height="5" fill="#fff" />
<rect x="70.5" y="454.1" width="3.4" height="5" fill="#fff" />
<rect x="76" y="439.2" width="3.4" height="5" fill="#fff" />
<rect x="76" y="454.1" width="3.4" height="5" fill="#fff" />
<rect x="82" y="439.2" width="3.4" height="5" fill="#fff" />
<rect x="82" y="454.1" width="3.4" height="5" fill="#fff" />
<rect x="87.5" y="439.2" width="3.4" height="5" fill="#fff" />
<rect x="87.5" y="454.1" width="3.4" height="5" fill="#fff" />
<rect x="93.5" y="439.2" width="3.4" height="5" fill="#fff" />
<rect x="93.5" y="454.1" width="3.4" height="5" fill="#fff" />
<rect x="99" y="439.2" width="3.4" height="5" fill="#fff" />
<rect x="99" y="454.1" width="3.4" height="5" fill="#fff" />
<rect x="105" y="439.2" width="3.4" height="5" fill="#fff" />
<rect x="105" y="454.1" width="3.4" height="5" fill="#fff" />
<rect x="111" y="439.2" width="3.4" height="5" fill="#fff" />
<rect x="111" y="454.1" width="3.4" height="5" fill="#fff" />
<rect x="116.5" y="439.2" width="3.4" height="5" fill="#fff" />
<rect x="116.5" y="454.1" width="3.4" height="5" fill="#fff" />
<rect x="122.5" y="439.2" width="3.8" height="5" fill="#fff" />
<rect x="122.5" y="454.1" width="3.8" height="5" fill="#fff" />
<rect x="48.9" y="446.4" width="33.3" height="5.2" fill="#fff" />
<rect x="86.9" y="446.4" width="33.9" height="5.2" fill="#fff" />
<rect x="125.7" y="447.2" width="2" height="3.6" fill="#fff" />
<rect x="44" y="463.2" width="83.7" height="24.2" fill="#000" />
<rect x="47" y="465.2" width="3.4" height="5" fill="#fff" />
<rect x="47" y="480.1" width="3.4" height="5" fill="#fff" />
<rect x="53" y="465.2" width="3.4" height="5" fill="#fff" />
<rect x="53" y="480.1" width="3.4" height="5" fill="#fff" />
<rect x="59" y="465.2" width="3.4" height="5" fill="#fff" />
<rect x="59" y="480.1" width="3.4" height="5" fill="#fff" />
<rect x="64.5" y="465.2" width="3.4" height="5" fill="#fff" />
<rect x="64.5" y="480.1" width="3.4" height="5" fill="#fff" />
<rect x="70.5" y="465.2" width="3.4" height="5" fill="#fff" />
<rect x="70.5" y="480.1" width="3.4" height="5" fill="#fff" />
<rect x="76" y="465.2" width="3.4" height="5" fill="#fff" />
<rect x="76" y="480.1" width="3.4" height="5" fill="#fff" />
<rect x="82" y="465.2" width="3.4" height="5" fill="#fff" />
<rect x="82" y="480.1" width="3.4" height="5" fill="#fff" />
<rect x="87.5" y="465.2" width="3.4" height="5" fill="#fff" />
<rect x="87.5" y="480.1" width="3.4" height="5" fill="#fff" />
<rect x="93.5" y="465.2" width="3.4" height="5" fill="#fff" />
<rect x="93.5" y="480.1" width="3.4" height="5" fill="#fff" />
<rect x="99" y="465.2" width="3.4" height="5" fill="#fff" />
<rect x="99" y="480.1" width="3.4" height="5" fill="#fff" />
<rect x="105" y="465.2" width="3.4" height="5" fill="#fff" />
<rect x="105" y="480.1" width="3.4" height="5" fill="#fff" />
<rect x="111" y="465.2" width="3.4" height="5" fill="#fff" />
<rect x="111" y="480.1" width="3.4" height="5" fill="#fff" />
<rect x="116.5" y="465.2" width="3.4" height="5" fill="#fff" />
<rect x="116.5" y="480.1" width="3.4" height="5" fill="#fff" />
<rect x="122.5" y="465.2" width="3.8" height="5" fill="#fff" />
<rect x="122.5" y="480.1" width="3.8" height="5" fill="#fff" />
<rect x="48.9" y="472.4" width="33.3" height="5.2" fill="#fff" />
<rect x="86.9" y="472.4" width="33.9" height="5.2" fill="#fff" />
<rect x="125.7" y="473.2" width="2" height="3.6" fill="#fff" />
<rect x="44" y="489" width="83.7" height="24.2" fill="#000" />
<rect x="47" y="491" width="3.4" height="5" fill="#fff" />
<rect x="47" y="505.9" width="3.4" height="5" fill="#fff" />
<rect x="53" y="491" width="3.4" height="5" fill="#fff" />
<rect x="53" y="505.9" width="3.4" height="5" fill="#fff" />
<rect x="59" y="491" width="3.4" height="5" fill="#fff" />
<rect x="59" y="505.9" width="3.4" height="5" fill="#fff" />
<rect x="64.5" y="491" width="3.4" height="5" fill="#fff" />
<rect x="64.5" y="505.9" width="3.4" height="5" fill="#fff" />
<rect x="70.5" y="491" width="3.4" height="5" fill="#fff" />
<rect x="70.5" y="505.9" width="3.4" height="5" fill="#fff" />
<rect x="76" y="491" width="3.4" height="5" fill="#fff" />
<rect x="76" y="505.9" width="3.4" height="5" fill="#fff" />
<rect x="82" y="491" width="3.4" height="5" fill="#fff" />
<rect x="82" y="505.9" width="3.4" height="5" fill="#fff" />
<rect x="87.5" y="491" width="3.4" height="5" fill="#fff" />
<rect x="87.5" y="505.9" width="3.4" height="5" fill="#fff" />
<rect x="93.5" y="491" width="3.4" height="5" fill="#fff" />
<rect x="93.5" y="505.9" width="3.4" height="5" fill="#fff" />
<rect x="99" y="491" width="3.4" height="5" fill="#fff" />
<rect x="99" y="505.9" width="3.4" height="5" fill="#fff" />
<rect x="105" y="491" width="3.4" height="5" fill="#fff" />
<rect x="105" y="505.9" width="3.4" height="5" fill="#fff" />
<rect x="111" y="491" width="3.4" height="5" fill="#fff" />
<rect x="111" y="505.9" width="3.4" height="5" fill="#fff" />
<rect x="116.5" y="491" width="3.4" height="5" fill="#fff" />
<rect x="116.5" y="505.9" width="3.4" height="5" fill="#fff" />
<rect x="122.5" y="491" width="3.8" height="5" fill="#fff" />
<rect x="122.5" y="505.9" width="3.8" height="5" fill="#fff" />
<rect x="48.9" y="498.2" width="33.3" height="5.2" fill="#fff" />
<rect x="86.9" y="498.2" width="33.9" height="5.2" fill="#fff" />
<rect x="125.7" y="499" width="2" height="3.6" fill="#fff" />
<polygon points="57.1,299.4 111,299.4 113.5,301.9 113.5,314.3 111,316.8 57.1,316.8 54.6,314.3 54.6,301.9" fill="#000"/>
<polygon points="57.6,300.9 110.5,300.9 112,302.4 112,313.8 110.5,315.3 57.6,315.3 56.1,313.8 56.1,302.4" fill="#fff"/>
<text transform="scale(0.75,1)" x="84.53 96.67 108.80 120.93" y="312" font-size="13.5" text-anchor="middle" fill="#000" stroke="#000" stroke-width="0.2" font-weight="normal" font-family="Liberation Sans, Arial, Helvetica, sans-serif">BANK</text>
<text transform="scale(0.75,1)" x="138.27" y="312" font-size="13.5" text-anchor="middle" fill="#000" stroke="#000" stroke-width="0.2" font-weight="normal" font-family="Liberation Sans, Arial, Helvetica, sans-serif">0</text>
<polygon points="57.1,402.1 111,402.1 113.5,404.6 113.5,416.8 111,419.3 57.1,419.3 54.6,416.8 54.6,404.6" fill="#000"/>
<polygon points="57.6,403.6 110.5,403.6 112,405.1 112,416.3 110.5,417.8 57.6,417.8 56.1,416.3 56.1,405.1" fill="#fff"/>
<text transform="scale(0.75,1)" x="84.53 96.67 108.80 120.93" y="415.3" font-size="13.5" text-anchor="middle" fill="#000" stroke="#000" stroke-width="0.2" font-weight="normal" font-family="Liberation Sans, Arial, Helvetica, sans-serif">BANK</text>
<text transform="scale(0.75,1)" x="138.27" y="415.3" font-size="13.5" text-anchor="middle" fill="#000" stroke="#000" stroke-width="0.2" font-weight="normal" font-family="Liberation Sans, Arial, Helvetica, sans-serif">1</text>
<polygon points="74,466.4 94,466.4 96.5,468.9 96.5,482.1 94,484.6 74,484.6 71.5,482.1 71.5,468.9" fill="#000"/>
<polygon points="75.5,468.6 92.5,468.6 94,470.1 94,480.9 92.5,482.4 75.5,482.4 74,480.9 74,470.1" fill="#fff"/>
<text transform="scale(0.75,1)" x="105.73 117.33" y="480" font-size="13.5" text-anchor="middle" fill="#000" stroke="#000" stroke-width="0.2" font-weight="normal" font-family="Liberation Sans, Arial, Helvetica, sans-serif">U1</text>
<polygon points="74,492.7 94,492.7 96.5,495.2 96.5,507.9 94,510.4 74,510.4 71.5,507.9 71.5,495.2" fill="#000"/>
<polygon points="75.5,494.9 92.5,494.9 94,496.4 94,506.7 92.5,508.2 75.5,508.2 74,506.7 74,496.4" fill="#fff"/>
<text transform="scale(0.75,1)" x="105.73 117.33" y="506" font-size="13.5" text-anchor="middle" fill="#000" stroke="#000" stroke-width="0.2" font-weight="normal" font-family="Liberation Sans, Arial, Helvetica, sans-serif">U2</text>
<path d="M133.5,257.5 L139.5,261.5 V296.3 L145,299.3 L139.5,302.3 V504 L133.5,508" fill="none" stroke="#000" stroke-width="1"/>
<polygon points="150.1,290.7 194.7,290.7 197.7,293.7 197.7,306.9 194.7,309.9 150.1,309.9 147.1,306.9 147.1,293.7" fill="#000"/>
<polygon points="151.8,293.2 194,293.2 196,295.2 196,305.1 194,307.1 151.8,307.1 149.8,305.1 149.8,295.2" fill="#fff"/>
<text transform="scale(0.8,1)" x="191.88 204.25 213.75 227.50 238.25" y="304.2" font-size="13.5" text-anchor="middle" fill="#000" stroke="#000" stroke-width="0.2" font-weight="normal" font-family="Liberation Sans, Arial, Helvetica, sans-serif">CACHE</text>
<polygon points="185.7,454.6 242.8,454.6 247.2,459.6 247.2,515 185.7,515" fill="#000"/>
<rect x="194.8" y="456" width="43.9" height="5.7" fill="#fff" />
<rect x="194" y="508" width="45" height="4.9" fill="#fff" />
<rect x="188.9" y="463" width="4.8" height="43.7" fill="#fff" />
<rect x="240" y="463.3" width="4.9" height="43.4" fill="#fff" />
<polygon points="240.6,456.9 242.4,456.9 244.4,458.9 244.4,461 240.6,461" fill="#fff"/>
<polygon points="234.5,461.7 240,461.7 240,467.2" fill="#fff"/>
<polygon points="236.4,461.5 235.2,462.9 238.8,466.5 240.2,465.3" fill="#000"/>
<rect x="204.8" y="456" width="1" height="5.7" fill="#000" />
<rect x="212" y="456" width="1" height="5.7" fill="#000" />
<rect x="222.9" y="456" width="1" height="5.7" fill="#000" />
<rect x="206.8" y="508" width="1" height="4.9" fill="#000" />
<rect x="216" y="508" width="1" height="4.9" fill="#000" />
<rect x="225.3" y="508" width="1" height="4.9" fill="#000" />
<rect x="188.9" y="472.8" width="4.8" height="1" fill="#000" />
<rect x="188.9" y="481.9" width="4.8" height="1" fill="#000" />
<rect x="188.9" y="490.9" width="4.8" height="1" fill="#000" />
<rect x="240" y="472.8" width="4.9" height="1" fill="#000" />
<rect x="240" y="480" width="4.9" height="1" fill="#000" />
<rect x="240" y="490.9" width="4.9" height="1" fill="#000" />
<polygon points="176.1,337.7 236.3,337.7 236.3,394.2 232.8,398.9 176.1,398.9" fill="#000"/>
<rect x="183.9" y="341.3" width="44.1" height="4.1" fill="#fff" />
<rect x="183.9" y="392.1" width="40.7" height="4.4" fill="#fff" />
<rect x="178.5" y="346.3" width="4.5" height="43.7" fill="#fff" />
<rect x="230.1" y="347" width="4.4" height="43" fill="#fff" />
<polygon points="230.3,392.6 234.2,392.6 234.2,393.9 232.2,395.9 230.3,395.9" fill="#fff"/>
<polygon points="224.6,392.1 230.1,392.1 230.1,386.6" fill="#fff"/>
<polygon points="226.5,392.3 225.3,390.9 228.9,387.3 230.3,388.5" fill="#000"/>
<rect x="207.5" y="341.3" width="1" height="4.1" fill="#000" />
<rect x="216.6" y="341.3" width="1" height="4.1" fill="#000" />
<rect x="209.8" y="392.1" width="1" height="4.4" fill="#000" />
<rect x="216.6" y="392.1" width="1" height="4.4" fill="#000" />
<rect x="178.5" y="377.3" width="4.5" height="1" fill="#000" />
<rect x="230.1" y="356.8" width="4.4" height="1" fill="#000" />
<rect x="230.1" y="363.6" width="4.4" height="1" fill="#000" />
<rect x="230.1" y="374.9" width="4.4" height="1" fill="#000" />
<rect x="230.1" y="385.9" width="4.4" height="1" fill="#000" />
<rect x="146" y="353" width="6" height="20" fill="#000" />
<rect x="147.1" y="354" width="3.9" height="1.1" fill="#fff" />
<rect x="147.1" y="359.1" width="3.9" height="2" fill="#fff" />
<rect x="147.1" y="364.8" width="3.9" height="1.3" fill="#fff" />
<rect x="147.1" y="370.9" width="3.9" height="1.1" fill="#fff" />
<rect x="148" y="367.1" width="2" height="2.8" fill="#fff" />
<polygon points="170.7,354.7 209.2,354.7 211,356.5 211,371.4 209.2,373.2 170.7,373.2 168.9,371.4 168.9,368.8 166,366.6 161.4,365.6 153.9,364.45 153.9,363.55 161.4,362.4 166,361.4 168.9,359.2 168.9,356.5" fill="#000"/>
<polygon points="171.9,356.8 208.2,356.8 209,357.6 209,369.7 208.2,370.5 171.9,370.5 171.1,369.7 171.1,366.8 162.9,364 171.1,361.2 171.1,357.6" fill="#fff"/>
<text transform="scale(0.75,1)" x="232.80 244.27 255.73 267.20" y="368.2" font-size="13.5" text-anchor="middle" fill="#000" stroke="#000" stroke-width="0.2" font-weight="normal" font-family="Liberation Sans, Arial, Helvetica, sans-serif">JP8D</text>
<rect x="144.8" y="465.7" width="28.2" height="49" fill="#000" />
<rect x="146.8" y="467.7" width="24.6" height="45" rx="2.2" fill="#fff"/>
<rect x="146.9" y="467.8" width="1" height="1" fill="#fff" />
<rect x="170.3" y="467.8" width="1" height="1" fill="#fff" />
<rect x="146.9" y="511.6" width="1" height="1" fill="#fff" />
<rect x="170.3" y="511.6" width="1" height="1" fill="#fff" />
<rect x="310.9" y="305.8" width="18.5" height="25.4" fill="#fff" stroke="#000" stroke-width="1.2" rx="0"/>
<rect x="309" y="330.8" width="22.3" height="1.2" fill="#000" />
<rect x="313" y="332" width="1.2" height="7" fill="#000" />
<rect x="326" y="332" width="1.2" height="7" fill="#000" />
<rect x="262" y="359" width="226" height="1.4" fill="#000" />
<rect x="262" y="376.6" width="226" height="1" fill="#000" />
<rect x="262" y="359" width="1" height="18.6" fill="#000" />
<rect x="487" y="359" width="1" height="18.6" fill="#000" />
<rect x="262" y="365.882" width="8" height="1" fill="#000" />
<rect x="262" y="373.136" width="8" height="1" fill="#000" />
<rect x="479.7" y="365.882" width="8.3" height="1" fill="#000" />
<rect x="479.7" y="373.136" width="8.3" height="1" fill="#000" />
<rect x="269.2" y="359" width="3.8" height="16.8" fill="#000" />
<rect x="270" y="374.6" width="6" height="1" fill="#000" />
<rect x="476.4" y="359" width="3.8" height="16.8" fill="#000" />
<rect x="474" y="374.6" width="5.7" height="1" fill="#000" />
<path d="M273,361.3 H280.4 V364.8 H282.7 V373.5 H273 M273,363.8 H275.7 V366.8 H280.4 V364.8" fill="none" stroke="#000" stroke-width="1.2" shape-rendering="crispEdges"/>
<path d="M477,361.3 H469.6 V364.8 H467.3 V373.5 H477 M477,363.8 H474.3 V366.8 H469.6 V364.8" fill="none" stroke="#000" stroke-width="1.2" shape-rendering="crispEdges"/>
<rect x="287" y="361.7" width="173.8" height="7.3" fill="#000" />
<rect x="287" y="368" width="174.8" height="7" fill="#000" />
<rect x="290" y="368.7" width="4.2" height="5.2" fill="#fff" />
<rect x="291" y="362.7" width="2" height="4" fill="#fff" />
<rect x="294.5" y="374.2" width="1" height="1" fill="#fff" />
<rect x="296" y="368.7" width="4.2" height="5.2" fill="#fff" />
<rect x="297" y="362.7" width="2" height="4" fill="#fff" />
<rect x="300.5" y="374.2" width="1" height="1" fill="#fff" />
<rect x="302" y="368.7" width="4.2" height="5.2" fill="#fff" />
<rect x="303" y="362.7" width="1" height="4" fill="#fff" />
<rect x="306.5" y="374.2" width="1" height="1" fill="#fff" />
<rect x="308" y="368.7" width="4.2" height="5.2" fill="#fff" />
<rect x="309" y="362.7" width="1" height="4" fill="#fff" />
<rect x="312.5" y="374.2" width="1" height="1" fill="#fff" />
<rect x="314" y="368.7" width="4.2" height="5.2" fill="#fff" />
<rect x="315" y="362.7" width="1" height="4" fill="#fff" />
<rect x="318.5" y="374.2" width="1" height="1" fill="#fff" />
<rect x="319.5" y="368.7" width="4.2" height="5.2" fill="#fff" />
<rect x="320.5" y="362.7" width="1" height="4" fill="#fff" />
<rect x="324" y="374.2" width="1" height="1" fill="#fff" />
<rect x="325.5" y="368.7" width="4.2" height="5.2" fill="#fff" />
<rect x="326.5" y="362.7" width="1" height="4" fill="#fff" />
<rect x="330" y="374.2" width="1" height="1" fill="#fff" />
<rect x="331.5" y="368.7" width="4.2" height="5.2" fill="#fff" />
<rect x="332.5" y="362.7" width="1" height="4" fill="#fff" />
<rect x="336" y="374.2" width="1" height="1" fill="#fff" />
<rect x="337.5" y="368.7" width="4.2" height="5.2" fill="#fff" />
<rect x="338.5" y="362.7" width="1" height="4" fill="#fff" />
<rect x="342" y="374.2" width="1" height="1" fill="#fff" />
<rect x="343.5" y="368.7" width="4.2" height="5.2" fill="#fff" />
<rect x="344.5" y="362.7" width="1" height="4" fill="#fff" />
<rect x="348" y="374.2" width="1" height="1" fill="#fff" />
<rect x="349" y="368.7" width="4.2" height="5.2" fill="#fff" />
<rect x="350" y="362.7" width="1" height="4" fill="#fff" />
<rect x="353.5" y="374.2" width="1" height="1" fill="#fff" />
<rect x="355" y="368.7" width="4.2" height="5.2" fill="#fff" />
<rect x="356" y="362.7" width="1" height="4" fill="#fff" />
<rect x="359.5" y="374.2" width="1" height="1" fill="#fff" />
<rect x="361" y="368.7" width="4.2" height="5.2" fill="#fff" />
<rect x="362" y="362.7" width="1" height="4" fill="#fff" />
<rect x="365.5" y="374.2" width="1" height="1" fill="#fff" />
<rect x="367" y="368.7" width="4.2" height="5.2" fill="#fff" />
<rect x="368" y="362.7" width="1" height="4" fill="#fff" />
<rect x="371.5" y="374.2" width="1" height="1" fill="#fff" />
<rect x="373" y="368.7" width="4.2" height="5.2" fill="#fff" />
<rect x="374" y="362.7" width="1" height="4" fill="#fff" />
<rect x="377.5" y="374.2" width="1" height="1" fill="#fff" />
<rect x="378.5" y="368.7" width="4.2" height="5.2" fill="#fff" />
<rect x="379.5" y="362.7" width="1" height="4" fill="#fff" />
<rect x="383" y="374.2" width="1" height="1" fill="#fff" />
<rect x="384.5" y="368.7" width="4.2" height="5.2" fill="#fff" />
<rect x="385.5" y="362.7" width="1" height="4" fill="#fff" />
<rect x="389" y="374.2" width="1" height="1" fill="#fff" />
<rect x="390.5" y="368.7" width="4.2" height="5.2" fill="#fff" />
<rect x="391.5" y="362.7" width="1" height="4" fill="#fff" />
<rect x="395" y="374.2" width="1" height="1" fill="#fff" />
<rect x="396.5" y="368.7" width="4.2" height="5.2" fill="#fff" />
<rect x="397.5" y="362.7" width="1" height="4" fill="#fff" />
<rect x="401" y="374.2" width="1" height="1" fill="#fff" />
<rect x="402.5" y="368.7" width="4.2" height="5.2" fill="#fff" />
<rect x="403.5" y="362.7" width="1" height="4" fill="#fff" />
<rect x="407" y="374.2" width="1" height="1" fill="#fff" />
<rect x="408" y="368.7" width="4.2" height="5.2" fill="#fff" />
<rect x="409" y="362.7" width="1" height="4" fill="#fff" />
<rect x="412.5" y="374.2" width="1" height="1" fill="#fff" />
<rect x="414" y="368.7" width="4.2" height="5.2" fill="#fff" />
<rect x="415" y="362.7" width="1" height="4" fill="#fff" />
<rect x="418.5" y="374.2" width="1" height="1" fill="#fff" />
<rect x="420" y="368.7" width="4.2" height="5.2" fill="#fff" />
<rect x="421" y="362.7" width="1" height="4" fill="#fff" />
<rect x="424.5" y="374.2" width="1" height="1" fill="#fff" />
<rect x="426" y="368.7" width="4.2" height="5.2" fill="#fff" />
<rect x="427" y="362.7" width="1" height="4" fill="#fff" />
<rect x="430.5" y="374.2" width="1" height="1" fill="#fff" />
<rect x="432" y="368.7" width="4.2" height="5.2" fill="#fff" />
<rect x="433" y="362.7" width="1" height="4" fill="#fff" />
<rect x="436.5" y="374.2" width="1" height="1" fill="#fff" />
<rect x="437.5" y="368.7" width="4.2" height="5.2" fill="#fff" />
<rect x="438.5" y="362.7" width="1" height="4" fill="#fff" />
<rect x="442" y="374.2" width="1" height="1" fill="#fff" />
<rect x="443.5" y="368.7" width="4.2" height="5.2" fill="#fff" />
<rect x="444.5" y="362.7" width="1" height="4" fill="#fff" />
<rect x="448" y="374.2" width="1" height="1" fill="#fff" />
<rect x="449.5" y="368.7" width="4.2" height="5.2" fill="#fff" />
<rect x="450.5" y="362.7" width="2" height="4" fill="#fff" />
<rect x="454" y="374.2" width="1" height="1" fill="#fff" />
<rect x="455.5" y="368.7" width="4.2" height="5.2" fill="#fff" />
<rect x="456.5" y="362.7" width="2" height="4" fill="#fff" />
<rect x="460" y="374.2" width="1" height="1" fill="#fff" />
<rect x="262" y="379.2" width="226" height="1.4" fill="#000" />
<rect x="262" y="396.8" width="226" height="1" fill="#000" />
<rect x="262" y="379.2" width="1" height="18.6" fill="#000" />
<rect x="487" y="379.2" width="1" height="18.6" fill="#000" />
<rect x="262" y="386.082" width="8" height="1" fill="#000" />
<rect x="262" y="393.336" width="8" height="1" fill="#000" />
<rect x="479.7" y="386.082" width="8.3" height="1" fill="#000" />
<rect x="479.7" y="393.336" width="8.3" height="1" fill="#000" />
<rect x="269.2" y="379.2" width="3.8" height="16.8" fill="#000" />
<rect x="270" y="394.8" width="6" height="1" fill="#000" />
<rect x="476.4" y="379.2" width="3.8" height="16.8" fill="#000" />
<rect x="474" y="394.8" width="5.7" height="1" fill="#000" />
<path d="M273,381.5 H280.4 V385.0 H282.7 V393.7 H273 M273,384.0 H275.7 V387.0 H280.4 V385.0" fill="none" stroke="#000" stroke-width="1.2" shape-rendering="crispEdges"/>
<path d="M477,381.5 H469.6 V385.0 H467.3 V393.7 H477 M477,384.0 H474.3 V387.0 H469.6 V385.0" fill="none" stroke="#000" stroke-width="1.2" shape-rendering="crispEdges"/>
<rect x="287" y="381.9" width="173.8" height="7.3" fill="#000" />
<rect x="287" y="388.2" width="174.8" height="7" fill="#000" />
<rect x="290" y="388.9" width="4.2" height="5.2" fill="#fff" />
<rect x="291" y="382.9" width="2" height="4" fill="#fff" />
<rect x="294.5" y="394.4" width="1" height="1" fill="#fff" />
<rect x="296" y="388.9" width="4.2" height="5.2" fill="#fff" />
<rect x="297" y="382.9" width="2" height="4" fill="#fff" />
<rect x="300.5" y="394.4" width="1" height="1" fill="#fff" />
<rect x="302" y="388.9" width="4.2" height="5.2" fill="#fff" />
<rect x="303" y="382.9" width="1" height="4" fill="#fff" />
<rect x="306.5" y="394.4" width="1" height="1" fill="#fff" />
<rect x="308" y="388.9" width="4.2" height="5.2" fill="#fff" />
<rect x="309" y="382.9" width="1" height="4" fill="#fff" />
<rect x="312.5" y="394.4" width="1" height="1" fill="#fff" />
<rect x="314" y="388.9" width="4.2" height="5.2" fill="#fff" />
<rect x="315" y="382.9" width="1" height="4" fill="#fff" />
<rect x="318.5" y="394.4" width="1" height="1" fill="#fff" />
<rect x="319.5" y="388.9" width="4.2" height="5.2" fill="#fff" />
<rect x="320.5" y="382.9" width="1" height="4" fill="#fff" />
<rect x="324" y="394.4" width="1" height="1" fill="#fff" />
<rect x="325.5" y="388.9" width="4.2" height="5.2" fill="#fff" />
<rect x="326.5" y="382.9" width="1" height="4" fill="#fff" />
<rect x="330" y="394.4" width="1" height="1" fill="#fff" />
<rect x="331.5" y="388.9" width="4.2" height="5.2" fill="#fff" />
<rect x="332.5" y="382.9" width="1" height="4" fill="#fff" />
<rect x="336" y="394.4" width="1" height="1" fill="#fff" />
<rect x="337.5" y="388.9" width="4.2" height="5.2" fill="#fff" />
<rect x="338.5" y="382.9" width="1" height="4" fill="#fff" />
<rect x="342" y="394.4" width="1" height="1" fill="#fff" />
<rect x="343.5" y="388.9" width="4.2" height="5.2" fill="#fff" />
<rect x="344.5" y="382.9" width="1" height="4" fill="#fff" />
<rect x="348" y="394.4" width="1" height="1" fill="#fff" />
<rect x="349" y="388.9" width="4.2" height="5.2" fill="#fff" />
<rect x="350" y="382.9" width="1" height="4" fill="#fff" />
<rect x="353.5" y="394.4" width="1" height="1" fill="#fff" />
<rect x="355" y="388.9" width="4.2" height="5.2" fill="#fff" />
<rect x="356" y="382.9" width="1" height="4" fill="#fff" />
<rect x="359.5" y="394.4" width="1" height="1" fill="#fff" />
<rect x="361" y="388.9" width="4.2" height="5.2" fill="#fff" />
<rect x="362" y="382.9" width="1" height="4" fill="#fff" />
<rect x="365.5" y="394.4" width="1" height="1" fill="#fff" />
<rect x="367" y="388.9" width="4.2" height="5.2" fill="#fff" />
<rect x="368" y="382.9" width="1" height="4" fill="#fff" />
<rect x="371.5" y="394.4" width="1" height="1" fill="#fff" />
<rect x="373" y="388.9" width="4.2" height="5.2" fill="#fff" />
<rect x="374" y="382.9" width="1" height="4" fill="#fff" />
<rect x="377.5" y="394.4" width="1" height="1" fill="#fff" />
<rect x="378.5" y="388.9" width="4.2" height="5.2" fill="#fff" />
<rect x="379.5" y="382.9" width="1" height="4" fill="#fff" />
<rect x="383" y="394.4" width="1" height="1" fill="#fff" />
<rect x="384.5" y="388.9" width="4.2" height="5.2" fill="#fff" />
<rect x="385.5" y="382.9" width="1" height="4" fill="#fff" />
<rect x="389" y="394.4" width="1" height="1" fill="#fff" />
<rect x="390.5" y="388.9" width="4.2" height="5.2" fill="#fff" />
<rect x="391.5" y="382.9" width="1" height="4" fill="#fff" />
<rect x="395" y="394.4" width="1" height="1" fill="#fff" />
<rect x="396.5" y="388.9" width="4.2" height="5.2" fill="#fff" />
<rect x="397.5" y="382.9" width="1" height="4" fill="#fff" />
<rect x="401" y="394.4" width="1" height="1" fill="#fff" />
<rect x="402.5" y="388.9" width="4.2" height="5.2" fill="#fff" />
<rect x="403.5" y="382.9" width="1" height="4" fill="#fff" />
<rect x="407" y="394.4" width="1" height="1" fill="#fff" />
<rect x="408" y="388.9" width="4.2" height="5.2" fill="#fff" />
<rect x="409" y="382.9" width="1" height="4" fill="#fff" />
<rect x="412.5" y="394.4" width="1" height="1" fill="#fff" />
<rect x="414" y="388.9" width="4.2" height="5.2" fill="#fff" />
<rect x="415" y="382.9" width="1" height="4" fill="#fff" />
<rect x="418.5" y="394.4" width="1" height="1" fill="#fff" />
<rect x="420" y="388.9" width="4.2" height="5.2" fill="#fff" />
<rect x="421" y="382.9" width="1" height="4" fill="#fff" />
<rect x="424.5" y="394.4" width="1" height="1" fill="#fff" />
<rect x="426" y="388.9" width="4.2" height="5.2" fill="#fff" />
<rect x="427" y="382.9" width="1" height="4" fill="#fff" />
<rect x="430.5" y="394.4" width="1" height="1" fill="#fff" />
<rect x="432" y="388.9" width="4.2" height="5.2" fill="#fff" />
<rect x="433" y="382.9" width="1" height="4" fill="#fff" />
<rect x="436.5" y="394.4" width="1" height="1" fill="#fff" />
<rect x="437.5" y="388.9" width="4.2" height="5.2" fill="#fff" />
<rect x="438.5" y="382.9" width="1" height="4" fill="#fff" />
<rect x="442" y="394.4" width="1" height="1" fill="#fff" />
<rect x="443.5" y="388.9" width="4.2" height="5.2" fill="#fff" />
<rect x="444.5" y="382.9" width="1" height="4" fill="#fff" />
<rect x="448" y="394.4" width="1" height="1" fill="#fff" />
<rect x="449.5" y="388.9" width="4.2" height="5.2" fill="#fff" />
<rect x="450.5" y="382.9" width="2" height="4" fill="#fff" />
<rect x="454" y="394.4" width="1" height="1" fill="#fff" />
<rect x="455.5" y="388.9" width="4.2" height="5.2" fill="#fff" />
<rect x="456.5" y="382.9" width="2" height="4" fill="#fff" />
<rect x="460" y="394.4" width="1" height="1" fill="#fff" />
<rect x="262" y="400" width="226" height="1.4" fill="#000" />
<rect x="262" y="417.6" width="226" height="1" fill="#000" />
<rect x="262" y="400" width="1" height="18.6" fill="#000" />
<rect x="487" y="400" width="1" height="18.6" fill="#000" />
<rect x="262" y="406.882" width="8" height="1" fill="#000" />
<rect x="262" y="414.136" width="8" height="1" fill="#000" />
<rect x="479.7" y="406.882" width="8.3" height="1" fill="#000" />
<rect x="479.7" y="414.136" width="8.3" height="1" fill="#000" />
<rect x="269.2" y="400" width="3.8" height="16.8" fill="#000" />
<rect x="270" y="415.6" width="6" height="1" fill="#000" />
<rect x="476.4" y="400" width="3.8" height="16.8" fill="#000" />
<rect x="474" y="415.6" width="5.7" height="1" fill="#000" />
<path d="M273,402.3 H280.4 V405.8 H282.7 V414.5 H273 M273,404.8 H275.7 V407.8 H280.4 V405.8" fill="none" stroke="#000" stroke-width="1.2" shape-rendering="crispEdges"/>
<path d="M477,402.3 H469.6 V405.8 H467.3 V414.5 H477 M477,404.8 H474.3 V407.8 H469.6 V405.8" fill="none" stroke="#000" stroke-width="1.2" shape-rendering="crispEdges"/>
<rect x="287" y="402.7" width="173.8" height="7.3" fill="#000" />
<rect x="287" y="409" width="174.8" height="7" fill="#000" />
<rect x="290" y="409.7" width="4.2" height="5.2" fill="#fff" />
<rect x="291" y="403.7" width="2" height="4" fill="#fff" />
<rect x="294.5" y="415.2" width="1" height="1" fill="#fff" />
<rect x="296" y="409.7" width="4.2" height="5.2" fill="#fff" />
<rect x="297" y="403.7" width="2" height="4" fill="#fff" />
<rect x="300.5" y="415.2" width="1" height="1" fill="#fff" />
<rect x="302" y="409.7" width="4.2" height="5.2" fill="#fff" />
<rect x="303" y="403.7" width="1" height="4" fill="#fff" />
<rect x="306.5" y="415.2" width="1" height="1" fill="#fff" />
<rect x="308" y="409.7" width="4.2" height="5.2" fill="#fff" />
<rect x="309" y="403.7" width="1" height="4" fill="#fff" />
<rect x="312.5" y="415.2" width="1" height="1" fill="#fff" />
<rect x="314" y="409.7" width="4.2" height="5.2" fill="#fff" />
<rect x="315" y="403.7" width="1" height="4" fill="#fff" />
<rect x="318.5" y="415.2" width="1" height="1" fill="#fff" />
<rect x="319.5" y="409.7" width="4.2" height="5.2" fill="#fff" />
<rect x="320.5" y="403.7" width="1" height="4" fill="#fff" />
<rect x="324" y="415.2" width="1" height="1" fill="#fff" />
<rect x="325.5" y="409.7" width="4.2" height="5.2" fill="#fff" />
<rect x="326.5" y="403.7" width="1" height="4" fill="#fff" />
<rect x="330" y="415.2" width="1" height="1" fill="#fff" />
<rect x="331.5" y="409.7" width="4.2" height="5.2" fill="#fff" />
<rect x="332.5" y="403.7" width="1" height="4" fill="#fff" />
<rect x="336" y="415.2" width="1" height="1" fill="#fff" />
<rect x="337.5" y="409.7" width="4.2" height="5.2" fill="#fff" />
<rect x="338.5" y="403.7" width="1" height="4" fill="#fff" />
<rect x="342" y="415.2" width="1" height="1" fill="#fff" />
<rect x="343.5" y="409.7" width="4.2" height="5.2" fill="#fff" />
<rect x="344.5" y="403.7" width="1" height="4" fill="#fff" />
<rect x="348" y="415.2" width="1" height="1" fill="#fff" />
<rect x="349" y="409.7" width="4.2" height="5.2" fill="#fff" />
<rect x="350" y="403.7" width="1" height="4" fill="#fff" />
<rect x="353.5" y="415.2" width="1" height="1" fill="#fff" />
<rect x="355" y="409.7" width="4.2" height="5.2" fill="#fff" />
<rect x="356" y="403.7" width="1" height="4" fill="#fff" />
<rect x="359.5" y="415.2" width="1" height="1" fill="#fff" />
<rect x="361" y="409.7" width="4.2" height="5.2" fill="#fff" />
<rect x="362" y="403.7" width="1" height="4" fill="#fff" />
<rect x="365.5" y="415.2" width="1" height="1" fill="#fff" />
<rect x="367" y="409.7" width="4.2" height="5.2" fill="#fff" />
<rect x="368" y="403.7" width="1" height="4" fill="#fff" />
<rect x="371.5" y="415.2" width="1" height="1" fill="#fff" />
<rect x="373" y="409.7" width="4.2" height="5.2" fill="#fff" />
<rect x="374" y="403.7" width="1" height="4" fill="#fff" />
<rect x="377.5" y="415.2" width="1" height="1" fill="#fff" />
<rect x="378.5" y="409.7" width="4.2" height="5.2" fill="#fff" />
<rect x="379.5" y="403.7" width="1" height="4" fill="#fff" />
<rect x="383" y="415.2" width="1" height="1" fill="#fff" />
<rect x="384.5" y="409.7" width="4.2" height="5.2" fill="#fff" />
<rect x="385.5" y="403.7" width="1" height="4" fill="#fff" />
<rect x="389" y="415.2" width="1" height="1" fill="#fff" />
<rect x="390.5" y="409.7" width="4.2" height="5.2" fill="#fff" />
<rect x="391.5" y="403.7" width="1" height="4" fill="#fff" />
<rect x="395" y="415.2" width="1" height="1" fill="#fff" />
<rect x="396.5" y="409.7" width="4.2" height="5.2" fill="#fff" />
<rect x="397.5" y="403.7" width="1" height="4" fill="#fff" />
<rect x="401" y="415.2" width="1" height="1" fill="#fff" />
<rect x="402.5" y="409.7" width="4.2" height="5.2" fill="#fff" />
<rect x="403.5" y="403.7" width="1" height="4" fill="#fff" />
<rect x="407" y="415.2" width="1" height="1" fill="#fff" />
<rect x="408" y="409.7" width="4.2" height="5.2" fill="#fff" />
<rect x="409" y="403.7" width="1" height="4" fill="#fff" />
<rect x="412.5" y="415.2" width="1" height="1" fill="#fff" />
<rect x="414" y="409.7" width="4.2" height="5.2" fill="#fff" />
<rect x="415" y="403.7" width="1" height="4" fill="#fff" />
<rect x="418.5" y="415.2" width="1" height="1" fill="#fff" />
<rect x="420" y="409.7" width="4.2" height="5.2" fill="#fff" />
<rect x="421" y="403.7" width="1" height="4" fill="#fff" />
<rect x="424.5" y="415.2" width="1" height="1" fill="#fff" />
<rect x="426" y="409.7" width="4.2" height="5.2" fill="#fff" />
<rect x="427" y="403.7" width="1" height="4" fill="#fff" />
<rect x="430.5" y="415.2" width="1" height="1" fill="#fff" />
<rect x="432" y="409.7" width="4.2" height="5.2" fill="#fff" />
<rect x="433" y="403.7" width="1" height="4" fill="#fff" />
<rect x="436.5" y="415.2" width="1" height="1" fill="#fff" />
<rect x="437.5" y="409.7" width="4.2" height="5.2" fill="#fff" />
<rect x="438.5" y="403.7" width="1" height="4" fill="#fff" />
<rect x="442" y="415.2" width="1" height="1" fill="#fff" />
<rect x="443.5" y="409.7" width="4.2" height="5.2" fill="#fff" />
<rect x="444.5" y="403.7" width="1" height="4" fill="#fff" />
<rect x="448" y="415.2" width="1" height="1" fill="#fff" />
<rect x="449.5" y="409.7" width="4.2" height="5.2" fill="#fff" />
<rect x="450.5" y="403.7" width="2" height="4" fill="#fff" />
<rect x="454" y="415.2" width="1" height="1" fill="#fff" />
<rect x="455.5" y="409.7" width="4.2" height="5.2" fill="#fff" />
<rect x="456.5" y="403.7" width="2" height="4" fill="#fff" />
<rect x="460" y="415.2" width="1" height="1" fill="#fff" />
<rect x="262" y="420.2" width="226" height="1.4" fill="#000" />
<rect x="262" y="437.8" width="226" height="1" fill="#000" />
<rect x="262" y="420.2" width="1" height="18.6" fill="#000" />
<rect x="487" y="420.2" width="1" height="18.6" fill="#000" />
<rect x="262" y="427.082" width="8" height="1" fill="#000" />
<rect x="262" y="434.336" width="8" height="1" fill="#000" />
<rect x="479.7" y="427.082" width="8.3" height="1" fill="#000" />
<rect x="479.7" y="434.336" width="8.3" height="1" fill="#000" />
<rect x="269.2" y="420.2" width="3.8" height="16.8" fill="#000" />
<rect x="270" y="435.8" width="6" height="1" fill="#000" />
<rect x="476.4" y="420.2" width="3.8" height="16.8" fill="#000" />
<rect x="474" y="435.8" width="5.7" height="1" fill="#000" />
<path d="M273,422.5 H280.4 V426.0 H282.7 V434.7 H273 M273,425.0 H275.7 V428.0 H280.4 V426.0" fill="none" stroke="#000" stroke-width="1.2" shape-rendering="crispEdges"/>
<path d="M477,422.5 H469.6 V426.0 H467.3 V434.7 H477 M477,425.0 H474.3 V428.0 H469.6 V426.0" fill="none" stroke="#000" stroke-width="1.2" shape-rendering="crispEdges"/>
<rect x="287" y="422.9" width="173.8" height="7.3" fill="#000" />
<rect x="287" y="429.2" width="174.8" height="7" fill="#000" />
<rect x="290" y="429.9" width="4.2" height="5.2" fill="#fff" />
<rect x="291" y="423.9" width="2" height="4" fill="#fff" />
<rect x="294.5" y="435.4" width="1" height="1" fill="#fff" />
<rect x="296" y="429.9" width="4.2" height="5.2" fill="#fff" />
<rect x="297" y="423.9" width="2" height="4" fill="#fff" />
<rect x="300.5" y="435.4" width="1" height="1" fill="#fff" />
<rect x="302" y="429.9" width="4.2" height="5.2" fill="#fff" />
<rect x="303" y="423.9" width="1" height="4" fill="#fff" />
<rect x="306.5" y="435.4" width="1" height="1" fill="#fff" />
<rect x="308" y="429.9" width="4.2" height="5.2" fill="#fff" />
<rect x="309" y="423.9" width="1" height="4" fill="#fff" />
<rect x="312.5" y="435.4" width="1" height="1" fill="#fff" />
<rect x="314" y="429.9" width="4.2" height="5.2" fill="#fff" />
<rect x="315" y="423.9" width="1" height="4" fill="#fff" />
<rect x="318.5" y="435.4" width="1" height="1" fill="#fff" />
<rect x="319.5" y="429.9" width="4.2" height="5.2" fill="#fff" />
<rect x="320.5" y="423.9" width="1" height="4" fill="#fff" />
<rect x="324" y="435.4" width="1" height="1" fill="#fff" />
<rect x="325.5" y="429.9" width="4.2" height="5.2" fill="#fff" />
<rect x="326.5" y="423.9" width="1" height="4" fill="#fff" />
<rect x="330" y="435.4" width="1" height="1" fill="#fff" />
<rect x="331.5" y="429.9" width="4.2" height="5.2" fill="#fff" />
<rect x="332.5" y="423.9" width="1" height="4" fill="#fff" />
<rect x="336" y="435.4" width="1" height="1" fill="#fff" />
<rect x="337.5" y="429.9" width="4.2" height="5.2" fill="#fff" />
<rect x="338.5" y="423.9" width="1" height="4" fill="#fff" />
<rect x="342" y="435.4" width="1" height="1" fill="#fff" />
<rect x="343.5" y="429.9" width="4.2" height="5.2" fill="#fff" />
<rect x="344.5" y="423.9" width="1" height="4" fill="#fff" />
<rect x="348" y="435.4" width="1" height="1" fill="#fff" />
<rect x="349" y="429.9" width="4.2" height="5.2" fill="#fff" />
<rect x="350" y="423.9" width="1" height="4" fill="#fff" />
<rect x="353.5" y="435.4" width="1" height="1" fill="#fff" />
<rect x="355" y="429.9" width="4.2" height="5.2" fill="#fff" />
<rect x="356" y="423.9" width="1" height="4" fill="#fff" />
<rect x="359.5" y="435.4" width="1" height="1" fill="#fff" />
<rect x="361" y="429.9" width="4.2" height="5.2" fill="#fff" />
<rect x="362" y="423.9" width="1" height="4" fill="#fff" />
<rect x="365.5" y="435.4" width="1" height="1" fill="#fff" />
<rect x="367" y="429.9" width="4.2" height="5.2" fill="#fff" />
<rect x="368" y="423.9" width="1" height="4" fill="#fff" />
<rect x="371.5" y="435.4" width="1" height="1" fill="#fff" />
<rect x="373" y="429.9" width="4.2" height="5.2" fill="#fff" />
<rect x="374" y="423.9" width="1" height="4" fill="#fff" />
<rect x="377.5" y="435.4" width="1" height="1" fill="#fff" />
<rect x="378.5" y="429.9" width="4.2" height="5.2" fill="#fff" />
<rect x="379.5" y="423.9" width="1" height="4" fill="#fff" />
<rect x="383" y="435.4" width="1" height="1" fill="#fff" />
<rect x="384.5" y="429.9" width="4.2" height="5.2" fill="#fff" />
<rect x="385.5" y="423.9" width="1" height="4" fill="#fff" />
<rect x="389" y="435.4" width="1" height="1" fill="#fff" />
<rect x="390.5" y="429.9" width="4.2" height="5.2" fill="#fff" />
<rect x="391.5" y="423.9" width="1" height="4" fill="#fff" />
<rect x="395" y="435.4" width="1" height="1" fill="#fff" />
<rect x="396.5" y="429.9" width="4.2" height="5.2" fill="#fff" />
<rect x="397.5" y="423.9" width="1" height="4" fill="#fff" />
<rect x="401" y="435.4" width="1" height="1" fill="#fff" />
<rect x="402.5" y="429.9" width="4.2" height="5.2" fill="#fff" />
<rect x="403.5" y="423.9" width="1" height="4" fill="#fff" />
<rect x="407" y="435.4" width="1" height="1" fill="#fff" />
<rect x="408" y="429.9" width="4.2" height="5.2" fill="#fff" />
<rect x="409" y="423.9" width="1" height="4" fill="#fff" />
<rect x="412.5" y="435.4" width="1" height="1" fill="#fff" />
<rect x="414" y="429.9" width="4.2" height="5.2" fill="#fff" />
<rect x="415" y="423.9" width="1" height="4" fill="#fff" />
<rect x="418.5" y="435.4" width="1" height="1" fill="#fff" />
<rect x="420" y="429.9" width="4.2" height="5.2" fill="#fff" />
<rect x="421" y="423.9" width="1" height="4" fill="#fff" />
<rect x="424.5" y="435.4" width="1" height="1" fill="#fff" />
<rect x="426" y="429.9" width="4.2" height="5.2" fill="#fff" />
<rect x="427" y="423.9" width="1" height="4" fill="#fff" />
<rect x="430.5" y="435.4" width="1" height="1" fill="#fff" />
<rect x="432" y="429.9" width="4.2" height="5.2" fill="#fff" />
<rect x="433" y="423.9" width="1" height="4" fill="#fff" />
<rect x="436.5" y="435.4" width="1" height="1" fill="#fff" />
<rect x="437.5" y="429.9" width="4.2" height="5.2" fill="#fff" />
<rect x="438.5" y="423.9" width="1" height="4" fill="#fff" />
<rect x="442" y="435.4" width="1" height="1" fill="#fff" />
<rect x="443.5" y="429.9" width="4.2" height="5.2" fill="#fff" />
<rect x="444.5" y="423.9" width="1" height="4" fill="#fff" />
<rect x="448" y="435.4" width="1" height="1" fill="#fff" />
<rect x="449.5" y="429.9" width="4.2" height="5.2" fill="#fff" />
<rect x="450.5" y="423.9" width="2" height="4" fill="#fff" />
<rect x="454" y="435.4" width="1" height="1" fill="#fff" />
<rect x="455.5" y="429.9" width="4.2" height="5.2" fill="#fff" />
<rect x="456.5" y="423.9" width="2" height="4" fill="#fff" />
<rect x="460" y="435.4" width="1" height="1" fill="#fff" />
<rect x="262" y="440.3" width="226" height="1.4" fill="#000" />
<rect x="262" y="457.9" width="226" height="1" fill="#000" />
<rect x="262" y="440.3" width="1" height="18.6" fill="#000" />
<rect x="487" y="440.3" width="1" height="18.6" fill="#000" />
<rect x="262" y="447.182" width="8" height="1" fill="#000" />
<rect x="262" y="454.436" width="8" height="1" fill="#000" />
<rect x="479.7" y="447.182" width="8.3" height="1" fill="#000" />
<rect x="479.7" y="454.436" width="8.3" height="1" fill="#000" />
<rect x="269.2" y="440.3" width="3.8" height="16.8" fill="#000" />
<rect x="270" y="455.9" width="6" height="1" fill="#000" />
<rect x="476.4" y="440.3" width="3.8" height="16.8" fill="#000" />
<rect x="474" y="455.9" width="5.7" height="1" fill="#000" />
<path d="M273,442.6 H280.4 V446.1 H282.7 V454.8 H273 M273,445.1 H275.7 V448.1 H280.4 V446.1" fill="none" stroke="#000" stroke-width="1.2" shape-rendering="crispEdges"/>
<path d="M477,442.6 H469.6 V446.1 H467.3 V454.8 H477 M477,445.1 H474.3 V448.1 H469.6 V446.1" fill="none" stroke="#000" stroke-width="1.2" shape-rendering="crispEdges"/>
<rect x="287" y="443" width="173.8" height="7.3" fill="#000" />
<rect x="287" y="449.3" width="174.8" height="7" fill="#000" />
<rect x="290" y="450" width="4.2" height="5.2" fill="#fff" />
<rect x="291" y="444" width="2" height="4" fill="#fff" />
<rect x="294.5" y="455.5" width="1" height="1" fill="#fff" />
<rect x="296" y="450" width="4.2" height="5.2" fill="#fff" />
<rect x="297" y="444" width="2" height="4" fill="#fff" />
<rect x="300.5" y="455.5" width="1" height="1" fill="#fff" />
<rect x="302" y="450" width="4.2" height="5.2" fill="#fff" />
<rect x="303" y="444" width="1" height="4" fill="#fff" />
<rect x="306.5" y="455.5" width="1" height="1" fill="#fff" />
<rect x="308" y="450" width="4.2" height="5.2" fill="#fff" />
<rect x="309" y="444" width="1" height="4" fill="#fff" />
<rect x="312.5" y="455.5" width="1" height="1" fill="#fff" />
<rect x="314" y="450" width="4.2" height="5.2" fill="#fff" />
<rect x="315" y="444" width="1" height="4" fill="#fff" />
<rect x="318.5" y="455.5" width="1" height="1" fill="#fff" />
<rect x="319.5" y="450" width="4.2" height="5.2" fill="#fff" />
<rect x="320.5" y="444" width="1" height="4" fill="#fff" />
<rect x="324" y="455.5" width="1" height="1" fill="#fff" />
<rect x="325.5" y="450" width="4.2" height="5.2" fill="#fff" />
<rect x="326.5" y="444" width="1" height="4" fill="#fff" />
<rect x="330" y="455.5" width="1" height="1" fill="#fff" />
<rect x="331.5" y="450" width="4.2" height="5.2" fill="#fff" />
<rect x="332.5" y="444" width="1" height="4" fill="#fff" />
<rect x="336" y="455.5" width="1" height="1" fill="#fff" />
<rect x="337.5" y="450" width="4.2" height="5.2" fill="#fff" />
<rect x="338.5" y="444" width="1" height="4" fill="#fff" />
<rect x="342" y="455.5" width="1" height="1" fill="#fff" />
<rect x="343.5" y="450" width="4.2" height="5.2" fill="#fff" />
<rect x="344.5" y="444" width="1" height="4" fill="#fff" />
<rect x="348" y="455.5" width="1" height="1" fill="#fff" />
<rect x="349" y="450" width="4.2" height="5.2" fill="#fff" />
<rect x="350" y="444" width="1" height="4" fill="#fff" />
<rect x="353.5" y="455.5" width="1" height="1" fill="#fff" />
<rect x="355" y="450" width="4.2" height="5.2" fill="#fff" />
<rect x="356" y="444" width="1" height="4" fill="#fff" />
<rect x="359.5" y="455.5" width="1" height="1" fill="#fff" />
<rect x="361" y="450" width="4.2" height="5.2" fill="#fff" />
<rect x="362" y="444" width="1" height="4" fill="#fff" />
<rect x="365.5" y="455.5" width="1" height="1" fill="#fff" />
<rect x="367" y="450" width="4.2" height="5.2" fill="#fff" />
<rect x="368" y="444" width="1" height="4" fill="#fff" />
<rect x="371.5" y="455.5" width="1" height="1" fill="#fff" />
<rect x="373" y="450" width="4.2" height="5.2" fill="#fff" />
<rect x="374" y="444" width="1" height="4" fill="#fff" />
<rect x="377.5" y="455.5" width="1" height="1" fill="#fff" />
<rect x="378.5" y="450" width="4.2" height="5.2" fill="#fff" />
<rect x="379.5" y="444" width="1" height="4" fill="#fff" />
<rect x="383" y="455.5" width="1" height="1" fill="#fff" />
<rect x="384.5" y="450" width="4.2" height="5.2" fill="#fff" />
<rect x="385.5" y="444" width="1" height="4" fill="#fff" />
<rect x="389" y="455.5" width="1" height="1" fill="#fff" />
<rect x="390.5" y="450" width="4.2" height="5.2" fill="#fff" />
<rect x="391.5" y="444" width="1" height="4" fill="#fff" />
<rect x="395" y="455.5" width="1" height="1" fill="#fff" />
<rect x="396.5" y="450" width="4.2" height="5.2" fill="#fff" />
<rect x="397.5" y="444" width="1" height="4" fill="#fff" />
<rect x="401" y="455.5" width="1" height="1" fill="#fff" />
<rect x="402.5" y="450" width="4.2" height="5.2" fill="#fff" />
<rect x="403.5" y="444" width="1" height="4" fill="#fff" />
<rect x="407" y="455.5" width="1" height="1" fill="#fff" />
<rect x="408" y="450" width="4.2" height="5.2" fill="#fff" />
<rect x="409" y="444" width="1" height="4" fill="#fff" />
<rect x="412.5" y="455.5" width="1" height="1" fill="#fff" />
<rect x="414" y="450" width="4.2" height="5.2" fill="#fff" />
<rect x="415" y="444" width="1" height="4" fill="#fff" />
<rect x="418.5" y="455.5" width="1" height="1" fill="#fff" />
<rect x="420" y="450" width="4.2" height="5.2" fill="#fff" />
<rect x="421" y="444" width="1" height="4" fill="#fff" />
<rect x="424.5" y="455.5" width="1" height="1" fill="#fff" />
<rect x="426" y="450" width="4.2" height="5.2" fill="#fff" />
<rect x="427" y="444" width="1" height="4" fill="#fff" />
<rect x="430.5" y="455.5" width="1" height="1" fill="#fff" />
<rect x="432" y="450" width="4.2" height="5.2" fill="#fff" />
<rect x="433" y="444" width="1" height="4" fill="#fff" />
<rect x="436.5" y="455.5" width="1" height="1" fill="#fff" />
<rect x="437.5" y="450" width="4.2" height="5.2" fill="#fff" />
<rect x="438.5" y="444" width="1" height="4" fill="#fff" />
<rect x="442" y="455.5" width="1" height="1" fill="#fff" />
<rect x="443.5" y="450" width="4.2" height="5.2" fill="#fff" />
<rect x="444.5" y="444" width="1" height="4" fill="#fff" />
<rect x="448" y="455.5" width="1" height="1" fill="#fff" />
<rect x="449.5" y="450" width="4.2" height="5.2" fill="#fff" />
<rect x="450.5" y="444" width="2" height="4" fill="#fff" />
<rect x="454" y="455.5" width="1" height="1" fill="#fff" />
<rect x="455.5" y="450" width="4.2" height="5.2" fill="#fff" />
<rect x="456.5" y="444" width="2" height="4" fill="#fff" />
<rect x="460" y="455.5" width="1" height="1" fill="#fff" />
<rect x="262" y="460.4" width="226" height="1.4" fill="#000" />
<rect x="262" y="478" width="226" height="1" fill="#000" />
<rect x="262" y="460.4" width="1" height="18.6" fill="#000" />
<rect x="487" y="460.4" width="1" height="18.6" fill="#000" />
<rect x="262" y="467.282" width="8" height="1" fill="#000" />
<rect x="262" y="474.536" width="8" height="1" fill="#000" />
<rect x="479.7" y="467.282" width="8.3" height="1" fill="#000" />
<rect x="479.7" y="474.536" width="8.3" height="1" fill="#000" />
<rect x="269.2" y="460.4" width="3.8" height="16.8" fill="#000" />
<rect x="270" y="476" width="6" height="1" fill="#000" />
<rect x="476.4" y="460.4" width="3.8" height="16.8" fill="#000" />
<rect x="474" y="476" width="5.7" height="1" fill="#000" />
<path d="M273,462.7 H280.4 V466.2 H282.7 V474.9 H273 M273,465.2 H275.7 V468.2 H280.4 V466.2" fill="none" stroke="#000" stroke-width="1.2" shape-rendering="crispEdges"/>
<path d="M477,462.7 H469.6 V466.2 H467.3 V474.9 H477 M477,465.2 H474.3 V468.2 H469.6 V466.2" fill="none" stroke="#000" stroke-width="1.2" shape-rendering="crispEdges"/>
<rect x="287" y="463.1" width="173.8" height="7.3" fill="#000" />
<rect x="287" y="469.4" width="174.8" height="7" fill="#000" />
<rect x="290" y="470.1" width="4.2" height="5.2" fill="#fff" />
<rect x="291" y="464.1" width="2" height="4" fill="#fff" />
<rect x="294.5" y="475.6" width="1" height="1" fill="#fff" />
<rect x="296" y="470.1" width="4.2" height="5.2" fill="#fff" />
<rect x="297" y="464.1" width="2" height="4" fill="#fff" />
<rect x="300.5" y="475.6" width="1" height="1" fill="#fff" />
<rect x="302" y="470.1" width="4.2" height="5.2" fill="#fff" />
<rect x="303" y="464.1" width="1" height="4" fill="#fff" />
<rect x="306.5" y="475.6" width="1" height="1" fill="#fff" />
<rect x="308" y="470.1" width="4.2" height="5.2" fill="#fff" />
<rect x="309" y="464.1" width="1" height="4" fill="#fff" />
<rect x="312.5" y="475.6" width="1" height="1" fill="#fff" />
<rect x="314" y="470.1" width="4.2" height="5.2" fill="#fff" />
<rect x="315" y="464.1" width="1" height="4" fill="#fff" />
<rect x="318.5" y="475.6" width="1" height="1" fill="#fff" />
<rect x="319.5" y="470.1" width="4.2" height="5.2" fill="#fff" />
<rect x="320.5" y="464.1" width="1" height="4" fill="#fff" />
<rect x="324" y="475.6" width="1" height="1" fill="#fff" />
<rect x="325.5" y="470.1" width="4.2" height="5.2" fill="#fff" />
<rect x="326.5" y="464.1" width="1" height="4" fill="#fff" />
<rect x="330" y="475.6" width="1" height="1" fill="#fff" />
<rect x="331.5" y="470.1" width="4.2" height="5.2" fill="#fff" />
<rect x="332.5" y="464.1" width="1" height="4" fill="#fff" />
<rect x="336" y="475.6" width="1" height="1" fill="#fff" />
<rect x="337.5" y="470.1" width="4.2" height="5.2" fill="#fff" />
<rect x="338.5" y="464.1" width="1" height="4" fill="#fff" />
<rect x="342" y="475.6" width="1" height="1" fill="#fff" />
<rect x="343.5" y="470.1" width="4.2" height="5.2" fill="#fff" />
<rect x="344.5" y="464.1" width="1" height="4" fill="#fff" />
<rect x="348" y="475.6" width="1" height="1" fill="#fff" />
<rect x="349" y="470.1" width="4.2" height="5.2" fill="#fff" />
<rect x="350" y="464.1" width="1" height="4" fill="#fff" />
<rect x="353.5" y="475.6" width="1" height="1" fill="#fff" />
<rect x="355" y="470.1" width="4.2" height="5.2" fill="#fff" />
<rect x="356" y="464.1" width="1" height="4" fill="#fff" />
<rect x="359.5" y="475.6" width="1" height="1" fill="#fff" />
<rect x="361" y="470.1" width="4.2" height="5.2" fill="#fff" />
<rect x="362" y="464.1" width="1" height="4" fill="#fff" />
<rect x="365.5" y="475.6" width="1" height="1" fill="#fff" />
<rect x="367" y="470.1" width="4.2" height="5.2" fill="#fff" />
<rect x="368" y="464.1" width="1" height="4" fill="#fff" />
<rect x="371.5" y="475.6" width="1" height="1" fill="#fff" />
<rect x="373" y="470.1" width="4.2" height="5.2" fill="#fff" />
<rect x="374" y="464.1" width="1" height="4" fill="#fff" />
<rect x="377.5" y="475.6" width="1" height="1" fill="#fff" />
<rect x="378.5" y="470.1" width="4.2" height="5.2" fill="#fff" />
<rect x="379.5" y="464.1" width="1" height="4" fill="#fff" />
<rect x="383" y="475.6" width="1" height="1" fill="#fff" />
<rect x="384.5" y="470.1" width="4.2" height="5.2" fill="#fff" />
<rect x="385.5" y="464.1" width="1" height="4" fill="#fff" />
<rect x="389" y="475.6" width="1" height="1" fill="#fff" />
<rect x="390.5" y="470.1" width="4.2" height="5.2" fill="#fff" />
<rect x="391.5" y="464.1" width="1" height="4" fill="#fff" />
<rect x="395" y="475.6" width="1" height="1" fill="#fff" />
<rect x="396.5" y="470.1" width="4.2" height="5.2" fill="#fff" />
<rect x="397.5" y="464.1" width="1" height="4" fill="#fff" />
<rect x="401" y="475.6" width="1" height="1" fill="#fff" />
<rect x="402.5" y="470.1" width="4.2" height="5.2" fill="#fff" />
<rect x="403.5" y="464.1" width="1" height="4" fill="#fff" />
<rect x="407" y="475.6" width="1" height="1" fill="#fff" />
<rect x="408" y="470.1" width="4.2" height="5.2" fill="#fff" />
<rect x="409" y="464.1" width="1" height="4" fill="#fff" />
<rect x="412.5" y="475.6" width="1" height="1" fill="#fff" />
<rect x="414" y="470.1" width="4.2" height="5.2" fill="#fff" />
<rect x="415" y="464.1" width="1" height="4" fill="#fff" />
<rect x="418.5" y="475.6" width="1" height="1" fill="#fff" />
<rect x="420" y="470.1" width="4.2" height="5.2" fill="#fff" />
<rect x="421" y="464.1" width="1" height="4" fill="#fff" />
<rect x="424.5" y="475.6" width="1" height="1" fill="#fff" />
<rect x="426" y="470.1" width="4.2" height="5.2" fill="#fff" />
<rect x="427" y="464.1" width="1" height="4" fill="#fff" />
<rect x="430.5" y="475.6" width="1" height="1" fill="#fff" />
<rect x="432" y="470.1" width="4.2" height="5.2" fill="#fff" />
<rect x="433" y="464.1" width="1" height="4" fill="#fff" />
<rect x="436.5" y="475.6" width="1" height="1" fill="#fff" />
<rect x="437.5" y="470.1" width="4.2" height="5.2" fill="#fff" />
<rect x="438.5" y="464.1" width="1" height="4" fill="#fff" />
<rect x="442" y="475.6" width="1" height="1" fill="#fff" />
<rect x="443.5" y="470.1" width="4.2" height="5.2" fill="#fff" />
<rect x="444.5" y="464.1" width="1" height="4" fill="#fff" />
<rect x="448" y="475.6" width="1" height="1" fill="#fff" />
<rect x="449.5" y="470.1" width="4.2" height="5.2" fill="#fff" />
<rect x="450.5" y="464.1" width="2" height="4" fill="#fff" />
<rect x="454" y="475.6" width="1" height="1" fill="#fff" />
<rect x="455.5" y="470.1" width="4.2" height="5.2" fill="#fff" />
<rect x="456.5" y="464.1" width="2" height="4" fill="#fff" />
<rect x="460" y="475.6" width="1" height="1" fill="#fff" />
<rect x="262" y="480.3" width="226" height="1.4" fill="#000" />
<rect x="262" y="497.9" width="226" height="1" fill="#000" />
<rect x="262" y="480.3" width="1" height="18.6" fill="#000" />
<rect x="487" y="480.3" width="1" height="18.6" fill="#000" />
<rect x="262" y="487.182" width="8" height="1" fill="#000" />
<rect x="262" y="494.436" width="8" height="1" fill="#000" />
<rect x="479.7" y="487.182" width="8.3" height="1" fill="#000" />
<rect x="479.7" y="494.436" width="8.3" height="1" fill="#000" />
<rect x="269.2" y="480.3" width="3.8" height="16.8" fill="#000" />
<rect x="270" y="495.9" width="6" height="1" fill="#000" />
<rect x="476.4" y="480.3" width="3.8" height="16.8" fill="#000" />
<rect x="474" y="495.9" width="5.7" height="1" fill="#000" />
<path d="M273,482.6 H280.4 V486.1 H282.7 V494.8 H273 M273,485.1 H275.7 V488.1 H280.4 V486.1" fill="none" stroke="#000" stroke-width="1.2" shape-rendering="crispEdges"/>
<path d="M477,482.6 H469.6 V486.1 H467.3 V494.8 H477 M477,485.1 H474.3 V488.1 H469.6 V486.1" fill="none" stroke="#000" stroke-width="1.2" shape-rendering="crispEdges"/>
<rect x="287" y="483" width="173.8" height="7.3" fill="#000" />
<rect x="287" y="489.3" width="174.8" height="7" fill="#000" />
<rect x="290" y="490" width="4.2" height="5.2" fill="#fff" />
<rect x="291" y="484" width="2" height="4" fill="#fff" />
<rect x="294.5" y="495.5" width="1" height="1" fill="#fff" />
<rect x="296" y="490" width="4.2" height="5.2" fill="#fff" />
<rect x="297" y="484" width="2" height="4" fill="#fff" />
<rect x="300.5" y="495.5" width="1" height="1" fill="#fff" />
<rect x="302" y="490" width="4.2" height="5.2" fill="#fff" />
<rect x="303" y="484" width="1" height="4" fill="#fff" />
<rect x="306.5" y="495.5" width="1" height="1" fill="#fff" />
<rect x="308" y="490" width="4.2" height="5.2" fill="#fff" />
<rect x="309" y="484" width="1" height="4" fill="#fff" />
<rect x="312.5" y="495.5" width="1" height="1" fill="#fff" />
<rect x="314" y="490" width="4.2" height="5.2" fill="#fff" />
<rect x="315" y="484" width="1" height="4" fill="#fff" />
<rect x="318.5" y="495.5" width="1" height="1" fill="#fff" />
<rect x="319.5" y="490" width="4.2" height="5.2" fill="#fff" />
<rect x="320.5" y="484" width="1" height="4" fill="#fff" />
<rect x="324" y="495.5" width="1" height="1" fill="#fff" />
<rect x="325.5" y="490" width="4.2" height="5.2" fill="#fff" />
<rect x="326.5" y="484" width="1" height="4" fill="#fff" />
<rect x="330" y="495.5" width="1" height="1" fill="#fff" />
<rect x="331.5" y="490" width="4.2" height="5.2" fill="#fff" />
<rect x="332.5" y="484" width="1" height="4" fill="#fff" />
<rect x="336" y="495.5" width="1" height="1" fill="#fff" />
<rect x="337.5" y="490" width="4.2" height="5.2" fill="#fff" />
<rect x="338.5" y="484" width="1" height="4" fill="#fff" />
<rect x="342" y="495.5" width="1" height="1" fill="#fff" />
<rect x="343.5" y="490" width="4.2" height="5.2" fill="#fff" />
<rect x="344.5" y="484" width="1" height="4" fill="#fff" />
<rect x="348" y="495.5" width="1" height="1" fill="#fff" />
<rect x="349" y="490" width="4.2" height="5.2" fill="#fff" />
<rect x="350" y="484" width="1" height="4" fill="#fff" />
<rect x="353.5" y="495.5" width="1" height="1" fill="#fff" />
<rect x="355" y="490" width="4.2" height="5.2" fill="#fff" />
<rect x="356" y="484" width="1" height="4" fill="#fff" />
<rect x="359.5" y="495.5" width="1" height="1" fill="#fff" />
<rect x="361" y="490" width="4.2" height="5.2" fill="#fff" />
<rect x="362" y="484" width="1" height="4" fill="#fff" />
<rect x="365.5" y="495.5" width="1" height="1" fill="#fff" />
<rect x="367" y="490" width="4.2" height="5.2" fill="#fff" />
<rect x="368" y="484" width="1" height="4" fill="#fff" />
<rect x="371.5" y="495.5" width="1" height="1" fill="#fff" />
<rect x="373" y="490" width="4.2" height="5.2" fill="#fff" />
<rect x="374" y="484" width="1" height="4" fill="#fff" />
<rect x="377.5" y="495.5" width="1" height="1" fill="#fff" />
<rect x="378.5" y="490" width="4.2" height="5.2" fill="#fff" />
<rect x="379.5" y="484" width="1" height="4" fill="#fff" />
<rect x="383" y="495.5" width="1" height="1" fill="#fff" />
<rect x="384.5" y="490" width="4.2" height="5.2" fill="#fff" />
<rect x="385.5" y="484" width="1" height="4" fill="#fff" />
<rect x="389" y="495.5" width="1" height="1" fill="#fff" />
<rect x="390.5" y="490" width="4.2" height="5.2" fill="#fff" />
<rect x="391.5" y="484" width="1" height="4" fill="#fff" />
<rect x="395" y="495.5" width="1" height="1" fill="#fff" />
<rect x="396.5" y="490" width="4.2" height="5.2" fill="#fff" />
<rect x="397.5" y="484" width="1" height="4" fill="#fff" />
<rect x="401" y="495.5" width="1" height="1" fill="#fff" />
<rect x="402.5" y="490" width="4.2" height="5.2" fill="#fff" />
<rect x="403.5" y="484" width="1" height="4" fill="#fff" />
<rect x="407" y="495.5" width="1" height="1" fill="#fff" />
<rect x="408" y="490" width="4.2" height="5.2" fill="#fff" />
<rect x="409" y="484" width="1" height="4" fill="#fff" />
<rect x="412.5" y="495.5" width="1" height="1" fill="#fff" />
<rect x="414" y="490" width="4.2" height="5.2" fill="#fff" />
<rect x="415" y="484" width="1" height="4" fill="#fff" />
<rect x="418.5" y="495.5" width="1" height="1" fill="#fff" />
<rect x="420" y="490" width="4.2" height="5.2" fill="#fff" />
<rect x="421" y="484" width="1" height="4" fill="#fff" />
<rect x="424.5" y="495.5" width="1" height="1" fill="#fff" />
<rect x="426" y="490" width="4.2" height="5.2" fill="#fff" />
<rect x="427" y="484" width="1" height="4" fill="#fff" />
<rect x="430.5" y="495.5" width="1" height="1" fill="#fff" />
<rect x="432" y="490" width="4.2" height="5.2" fill="#fff" />
<rect x="433" y="484" width="1" height="4" fill="#fff" />
<rect x="436.5" y="495.5" width="1" height="1" fill="#fff" />
<rect x="437.5" y="490" width="4.2" height="5.2" fill="#fff" />
<rect x="438.5" y="484" width="1" height="4" fill="#fff" />
<rect x="442" y="495.5" width="1" height="1" fill="#fff" />
<rect x="443.5" y="490" width="4.2" height="5.2" fill="#fff" />
<rect x="444.5" y="484" width="1" height="4" fill="#fff" />
<rect x="448" y="495.5" width="1" height="1" fill="#fff" />
<rect x="449.5" y="490" width="4.2" height="5.2" fill="#fff" />
<rect x="450.5" y="484" width="2" height="4" fill="#fff" />
<rect x="454" y="495.5" width="1" height="1" fill="#fff" />
<rect x="455.5" y="490" width="4.2" height="5.2" fill="#fff" />
<rect x="456.5" y="484" width="2" height="4" fill="#fff" />
<rect x="460" y="495.5" width="1" height="1" fill="#fff" />
<rect x="262" y="500" width="226" height="1.4" fill="#000" />
<rect x="262" y="517.6" width="226" height="1" fill="#000" />
<rect x="262" y="500" width="1" height="18.6" fill="#000" />
<rect x="487" y="500" width="1" height="18.6" fill="#000" />
<rect x="262" y="506.882" width="8" height="1" fill="#000" />
<rect x="262" y="514.136" width="8" height="1" fill="#000" />
<rect x="479.7" y="506.882" width="8.3" height="1" fill="#000" />
<rect x="479.7" y="514.136" width="8.3" height="1" fill="#000" />
<rect x="269.2" y="500" width="3.8" height="16.8" fill="#000" />
<rect x="270" y="515.6" width="6" height="1" fill="#000" />
<rect x="476.4" y="500" width="3.8" height="16.8" fill="#000" />
<rect x="474" y="515.6" width="5.7" height="1" fill="#000" />
<path d="M273,502.3 H280.4 V505.8 H282.7 V514.5 H273 M273,504.8 H275.7 V507.8 H280.4 V505.8" fill="none" stroke="#000" stroke-width="1.2" shape-rendering="crispEdges"/>
<path d="M477,502.3 H469.6 V505.8 H467.3 V514.5 H477 M477,504.8 H474.3 V507.8 H469.6 V505.8" fill="none" stroke="#000" stroke-width="1.2" shape-rendering="crispEdges"/>
<rect x="287" y="502.7" width="173.8" height="7.3" fill="#000" />
<rect x="287" y="509" width="174.8" height="7" fill="#000" />
<rect x="290" y="509.7" width="4.2" height="5.2" fill="#fff" />
<rect x="291" y="503.7" width="2" height="4" fill="#fff" />
<rect x="294.5" y="515.2" width="1" height="1" fill="#fff" />
<rect x="296" y="509.7" width="4.2" height="5.2" fill="#fff" />
<rect x="297" y="503.7" width="2" height="4" fill="#fff" />
<rect x="300.5" y="515.2" width="1" height="1" fill="#fff" />
<rect x="302" y="509.7" width="4.2" height="5.2" fill="#fff" />
<rect x="303" y="503.7" width="1" height="4" fill="#fff" />
<rect x="306.5" y="515.2" width="1" height="1" fill="#fff" />
<rect x="308" y="509.7" width="4.2" height="5.2" fill="#fff" />
<rect x="309" y="503.7" width="1" height="4" fill="#fff" />
<rect x="312.5" y="515.2" width="1" height="1" fill="#fff" />
<rect x="314" y="509.7" width="4.2" height="5.2" fill="#fff" />
<rect x="315" y="503.7" width="1" height="4" fill="#fff" />
<rect x="318.5" y="515.2" width="1" height="1" fill="#fff" />
<rect x="319.5" y="509.7" width="4.2" height="5.2" fill="#fff" />
<rect x="320.5" y="503.7" width="1" height="4" fill="#fff" />
<rect x="324" y="515.2" width="1" height="1" fill="#fff" />
<rect x="325.5" y="509.7" width="4.2" height="5.2" fill="#fff" />
<rect x="326.5" y="503.7" width="1" height="4" fill="#fff" />
<rect x="330" y="515.2" width="1" height="1" fill="#fff" />
<rect x="331.5" y="509.7" width="4.2" height="5.2" fill="#fff" />
<rect x="332.5" y="503.7" width="1" height="4" fill="#fff" />
<rect x="336" y="515.2" width="1" height="1" fill="#fff" />
<rect x="337.5" y="509.7" width="4.2" height="5.2" fill="#fff" />
<rect x="338.5" y="503.7" width="1" height="4" fill="#fff" />
<rect x="342" y="515.2" width="1" height="1" fill="#fff" />
<rect x="343.5" y="509.7" width="4.2" height="5.2" fill="#fff" />
<rect x="344.5" y="503.7" width="1" height="4" fill="#fff" />
<rect x="348" y="515.2" width="1" height="1" fill="#fff" />
<rect x="349" y="509.7" width="4.2" height="5.2" fill="#fff" />
<rect x="350" y="503.7" width="1" height="4" fill="#fff" />
<rect x="353.5" y="515.2" width="1" height="1" fill="#fff" />
<rect x="355" y="509.7" width="4.2" height="5.2" fill="#fff" />
<rect x="356" y="503.7" width="1" height="4" fill="#fff" />
<rect x="359.5" y="515.2" width="1" height="1" fill="#fff" />
<rect x="361" y="509.7" width="4.2" height="5.2" fill="#fff" />
<rect x="362" y="503.7" width="1" height="4" fill="#fff" />
<rect x="365.5" y="515.2" width="1" height="1" fill="#fff" />
<rect x="367" y="509.7" width="4.2" height="5.2" fill="#fff" />
<rect x="368" y="503.7" width="1" height="4" fill="#fff" />
<rect x="371.5" y="515.2" width="1" height="1" fill="#fff" />
<rect x="373" y="509.7" width="4.2" height="5.2" fill="#fff" />
<rect x="374" y="503.7" width="1" height="4" fill="#fff" />
<rect x="377.5" y="515.2" width="1" height="1" fill="#fff" />
<rect x="378.5" y="509.7" width="4.2" height="5.2" fill="#fff" />
<rect x="379.5" y="503.7" width="1" height="4" fill="#fff" />
<rect x="383" y="515.2" width="1" height="1" fill="#fff" />
<rect x="384.5" y="509.7" width="4.2" height="5.2" fill="#fff" />
<rect x="385.5" y="503.7" width="1" height="4" fill="#fff" />
<rect x="389" y="515.2" width="1" height="1" fill="#fff" />
<rect x="390.5" y="509.7" width="4.2" height="5.2" fill="#fff" />
<rect x="391.5" y="503.7" width="1" height="4" fill="#fff" />
<rect x="395" y="515.2" width="1" height="1" fill="#fff" />
<rect x="396.5" y="509.7" width="4.2" height="5.2" fill="#fff" />
<rect x="397.5" y="503.7" width="1" height="4" fill="#fff" />
<rect x="401" y="515.2" width="1" height="1" fill="#fff" />
<rect x="402.5" y="509.7" width="4.2" height="5.2" fill="#fff" />
<rect x="403.5" y="503.7" width="1" height="4" fill="#fff" />
<rect x="407" y="515.2" width="1" height="1" fill="#fff" />
<rect x="408" y="509.7" width="4.2" height="5.2" fill="#fff" />
<rect x="409" y="503.7" width="1" height="4" fill="#fff" />
<rect x="412.5" y="515.2" width="1" height="1" fill="#fff" />
<rect x="414" y="509.7" width="4.2" height="5.2" fill="#fff" />
<rect x="415" y="503.7" width="1" height="4" fill="#fff" />
<rect x="418.5" y="515.2" width="1" height="1" fill="#fff" />
<rect x="420" y="509.7" width="4.2" height="5.2" fill="#fff" />
<rect x="421" y="503.7" width="1" height="4" fill="#fff" />
<rect x="424.5" y="515.2" width="1" height="1" fill="#fff" />
<rect x="426" y="509.7" width="4.2" height="5.2" fill="#fff" />
<rect x="427" y="503.7" width="1" height="4" fill="#fff" />
<rect x="430.5" y="515.2" width="1" height="1" fill="#fff" />
<rect x="432" y="509.7" width="4.2" height="5.2" fill="#fff" />
<rect x="433" y="503.7" width="1" height="4" fill="#fff" />
<rect x="436.5" y="515.2" width="1" height="1" fill="#fff" />
<rect x="437.5" y="509.7" width="4.2" height="5.2" fill="#fff" />
<rect x="438.5" y="503.7" width="1" height="4" fill="#fff" />
<rect x="442" y="515.2" width="1" height="1" fill="#fff" />
<rect x="443.5" y="509.7" width="4.2" height="5.2" fill="#fff" />
<rect x="444.5" y="503.7" width="1" height="4" fill="#fff" />
<rect x="448" y="515.2" width="1" height="1" fill="#fff" />
<rect x="449.5" y="509.7" width="4.2" height="5.2" fill="#fff" />
<rect x="450.5" y="503.7" width="2" height="4" fill="#fff" />
<rect x="454" y="515.2" width="1" height="1" fill="#fff" />
<rect x="455.5" y="509.7" width="4.2" height="5.2" fill="#fff" />
<rect x="456.5" y="503.7" width="2" height="4" fill="#fff" />
<rect x="460" y="515.2" width="1" height="1" fill="#fff" />
<polygon points="346.3,389.8 403.5,389.8 405,391.3 405,406.3 403.5,407.8 346.3,407.8 344.8,406.3 344.8,391.3" fill="#000"/>
<polygon points="347.7,392.1 402.2,392.1 402.8,392.7 402.8,404.9 402.2,405.5 347.7,405.5 347.1,404.9 347.1,392.7" fill="#fff"/>
<text transform="scale(0.75,1)" x="472.80 485.00 497.20 509.40" y="402.8" font-size="13.5" text-anchor="middle" fill="#000" stroke="#000" stroke-width="0.2" font-weight="normal" font-family="Liberation Sans, Arial, Helvetica, sans-serif">BANK</text>
<text transform="scale(0.75,1)" x="525.87" y="402.8" font-size="13.5" text-anchor="middle" fill="#000" stroke="#000" stroke-width="0.2" font-weight="normal" font-family="Liberation Sans, Arial, Helvetica, sans-serif">0</text>
<polygon points="346.3,469.8 403.5,469.8 405,471.3 405,486.9 403.5,488.4 346.3,488.4 344.8,486.9 344.8,471.3" fill="#000"/>
<polygon points="347.7,472.1 402.2,472.1 402.8,472.7 402.8,485.5 402.2,486.1 347.7,486.1 347.1,485.5 347.1,472.7" fill="#fff"/>
<text transform="scale(0.75,1)" x="472.80 485.00 497.20 509.40" y="483.7" font-size="13.5" text-anchor="middle" fill="#000" stroke="#000" stroke-width="0.2" font-weight="normal" font-family="Liberation Sans, Arial, Helvetica, sans-serif">BANK</text>
<text transform="scale(0.75,1)" x="525.87" y="483.7" font-size="13.5" text-anchor="middle" fill="#000" stroke="#000" stroke-width="0.2" font-weight="normal" font-family="Liberation Sans, Arial, Helvetica, sans-serif">1</text>
<path d="M522.3,416.8 H565.3 L569.2,420 V462.3 L567,467.2 H524 L520.1,463.6 V420.3 Z" fill="#000"/>
<ellipse cx="526.9" cy="424.3" rx="1.9" ry="1.4" fill="#fff"/>
<path d="M598,384.4 L619.6,384.4 L622.5,389 L622.5,391 L620.5,394 L620.3,401 L621.8,404 L621.8,407 L620.3,410 L620.5,415 L622.5,418 L622.5,420.5 L620.3,423 L620.3,424.2 L598,424.2 L595.3,421 L595.3,419 L596.3,417 L597.5,411 L596,407 L595.3,404 L597.5,398 L596.5,392 L595.3,390.5 L595.3,388 Z" fill="#fff" stroke="#000" stroke-width="1.1" stroke-linejoin="round"/>
<path d="M607,431.8 H631.2 V427.1 H634 V424.9 H637.5 V475.8 H634 V472.9 H631.2 V468.7 H607 Z" fill="#000" shape-rendering="crispEdges"/>
<rect x="604.6" y="438.2" width="2.4" height="22.8" fill="#000" />
<rect x="600.5" y="440.3" width="4.2" height="7.5" fill="#fff" stroke="#000" stroke-width="1" rx="0"/>
<rect x="600.5" y="451.8" width="4.2" height="7.2" fill="#fff" stroke="#000" stroke-width="1" rx="0"/>
<rect x="605.2" y="441.5" width="1.2" height="1" fill="#fff" />
<rect x="605.2" y="443.5" width="1.2" height="1" fill="#fff" />
<rect x="605.2" y="445.5" width="1.2" height="1" fill="#fff" />
<rect x="605.2" y="453.5" width="1.2" height="1" fill="#fff" />
<rect x="605.2" y="455.5" width="1.2" height="1" fill="#fff" />
<rect x="605.2" y="457.5" width="1.2" height="1" fill="#fff" />
<rect x="605.4" y="448.6" width="1" height="2.6" fill="#fff" />
<rect x="494.5" y="486.4" width="111.2" height="24" fill="#fff" stroke="#000" stroke-width="1" rx="0"/>
<rect x="494" y="494" width="112.2" height="1" fill="#000" />
<rect x="497.7" y="489" width="3.9" height="1.3" fill="#000" />
<rect x="496.3" y="490.2" width="6.6" height="2" fill="#000" />
<rect x="498.2" y="492" width="2.8" height="2.2" fill="#000" />
<rect x="496.8" y="496.4" width="5.6" height="2" fill="#fff" stroke="#000" stroke-width="1" rx="1"/>
<rect x="500.2" y="500.5" width="6" height="6" fill="#fff" stroke="#000" stroke-width="1" rx="0"/>
<rect x="506.9" y="489" width="3.9" height="1.3" fill="#000" />
<rect x="505.5" y="490.2" width="6.6" height="2" fill="#000" />
<rect x="507.4" y="492" width="2.8" height="2.2" fill="#000" />
<rect x="506" y="496.4" width="5.6" height="2" fill="#fff" stroke="#000" stroke-width="1" rx="1"/>
<rect x="508.81" y="500.5" width="6" height="6" fill="#fff" stroke="#000" stroke-width="1" rx="0"/>
<rect x="516.1" y="489" width="3.9" height="1.3" fill="#000" />
<rect x="514.7" y="490.2" width="6.6" height="2" fill="#000" />
<rect x="516.6" y="492" width="2.8" height="2.2" fill="#000" />
<rect x="515.2" y="496.4" width="5.6" height="2" fill="#fff" stroke="#000" stroke-width="1" rx="1"/>
<rect x="517.42" y="500.5" width="6" height="6" fill="#fff" stroke="#000" stroke-width="1" rx="0"/>
<rect x="525.3" y="489" width="3.9" height="1.3" fill="#000" />
<rect x="523.9" y="490.2" width="6.6" height="2" fill="#000" />
<rect x="525.8" y="492" width="2.8" height="2.2" fill="#000" />
<rect x="524.4" y="496.4" width="5.6" height="2" fill="#fff" stroke="#000" stroke-width="1" rx="1"/>
<rect x="526.03" y="500.5" width="6" height="6" fill="#fff" stroke="#000" stroke-width="1" rx="0"/>
<rect x="534.5" y="489" width="3.9" height="1.3" fill="#000" />
<rect x="533.1" y="490.2" width="6.6" height="2" fill="#000" />
<rect x="535" y="492" width="2.8" height="2.2" fill="#000" />
<rect x="533.6" y="496.4" width="5.6" height="2" fill="#fff" stroke="#000" stroke-width="1" rx="1"/>
<rect x="534.64" y="500.5" width="6" height="6" fill="#fff" stroke="#000" stroke-width="1" rx="0"/>
<rect x="543.7" y="489" width="3.9" height="1.3" fill="#000" />
<rect x="542.3" y="490.2" width="6.6" height="2" fill="#000" />
<rect x="544.2" y="492" width="2.8" height="2.2" fill="#000" />
<rect x="542.8" y="496.4" width="5.6" height="2" fill="#fff" stroke="#000" stroke-width="1" rx="1"/>
<rect x="543.25" y="500.5" width="6" height="6" fill="#fff" stroke="#000" stroke-width="1" rx="0"/>
<rect x="552.9" y="489" width="3.9" height="1.3" fill="#000" />
<rect x="551.5" y="490.2" width="6.6" height="2" fill="#000" />
<rect x="553.4" y="492" width="2.8" height="2.2" fill="#000" />
<rect x="552" y="496.4" width="5.6" height="2" fill="#fff" stroke="#000" stroke-width="1" rx="1"/>
<rect x="551.86" y="500.5" width="6" height="6" fill="#fff" stroke="#000" stroke-width="1" rx="0"/>
<rect x="562.1" y="489" width="3.9" height="1.3" fill="#000" />
<rect x="560.7" y="490.2" width="6.6" height="2" fill="#000" />
<rect x="562.6" y="492" width="2.8" height="2.2" fill="#000" />
<rect x="561.2" y="496.4" width="5.6" height="2" fill="#fff" stroke="#000" stroke-width="1" rx="1"/>
<rect x="560.47" y="500.5" width="6" height="6" fill="#fff" stroke="#000" stroke-width="1" rx="0"/>
<rect x="571.3" y="489" width="3.9" height="1.3" fill="#000" />
<rect x="569.9" y="490.2" width="6.6" height="2" fill="#000" />
<rect x="571.8" y="492" width="2.8" height="2.2" fill="#000" />
<rect x="570.4" y="496.4" width="5.6" height="2" fill="#fff" stroke="#000" stroke-width="1" rx="1"/>
<rect x="569.08" y="500.5" width="6" height="6" fill="#fff" stroke="#000" stroke-width="1" rx="0"/>
<rect x="580.5" y="489" width="3.9" height="1.3" fill="#000" />
<rect x="579.1" y="490.2" width="6.6" height="2" fill="#000" />
<rect x="581" y="492" width="2.8" height="2.2" fill="#000" />
<rect x="579.6" y="496.4" width="5.6" height="2" fill="#fff" stroke="#000" stroke-width="1" rx="1"/>
<rect x="577.69" y="500.5" width="6" height="6" fill="#fff" stroke="#000" stroke-width="1" rx="0"/>
<rect x="589.7" y="489" width="3.9" height="1.3" fill="#000" />
<rect x="588.3" y="490.2" width="6.6" height="2" fill="#000" />
<rect x="590.2" y="492" width="2.8" height="2.2" fill="#000" />
<rect x="588.8" y="496.4" width="5.6" height="2" fill="#fff" stroke="#000" stroke-width="1" rx="1"/>
<rect x="586.3" y="500.5" width="6" height="6" fill="#fff" stroke="#000" stroke-width="1" rx="0"/>
<rect x="598.9" y="489" width="3.9" height="1.3" fill="#000" />
<rect x="597.5" y="490.2" width="6.6" height="2" fill="#000" />
<rect x="599.4" y="492" width="2.8" height="2.2" fill="#000" />
<rect x="598" y="496.4" width="5.6" height="2" fill="#fff" stroke="#000" stroke-width="1" rx="1"/>
<rect x="594.91" y="500.5" width="6" height="6" fill="#fff" stroke="#000" stroke-width="1" rx="0"/>
<rect x="495" y="500.3" width="2.5" height="6.3" fill="#000" />
<rect x="495" y="501.4" width="1.3" height="4" fill="#fff" />
<rect x="602.8" y="500.3" width="2.6" height="6.3" fill="#000" />
<rect x="604" y="501.4" width="1.4" height="4" fill="#fff" />
</svg>
</body></html>
